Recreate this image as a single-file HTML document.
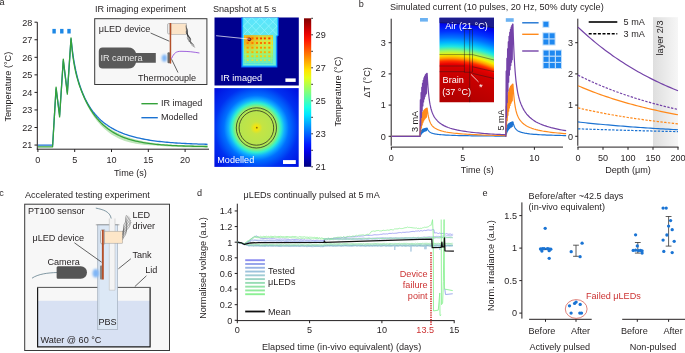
<!DOCTYPE html>
<html><head><meta charset="utf-8"><style>
html,body{margin:0;padding:0;background:#fff;overflow:hidden}
svg{display:block;will-change:transform}
</style></head><body>
<svg width="685" height="353" viewBox="0 0 685 353" font-family="Liberation Sans, sans-serif" font-size="9.1" fill="#231f20">
<defs><filter id="blur1" x="-50%" y="-50%" width="200%" height="200%"><feGaussianBlur stdDeviation="1.0"/></filter>
<filter id="blur05" x="-20%" y="-20%" width="140%" height="140%"><feGaussianBlur stdDeviation="0.55"/></filter>
<linearGradient id="irg" x1="0" y1="0" x2="0" y2="1"><stop offset="0" stop-color="#ffc000"/><stop offset="0.2" stop-color="#f4e020"/><stop offset="0.45" stop-color="#d0f038"/><stop offset="0.7" stop-color="#98f070"/><stop offset="0.9" stop-color="#60f0b8"/><stop offset="1" stop-color="#48e0e8"/></linearGradient>
<radialGradient id="irh" cx="248" cy="40" r="14" gradientUnits="userSpaceOnUse"><stop offset="0" stop-color="#ff8000" stop-opacity="0.7"/><stop offset="1" stop-color="#ffa000" stop-opacity="0"/></radialGradient>
<linearGradient id="irtop" x1="0" y1="0" x2="0" y2="1"><stop offset="0" stop-color="#58e4ff"/><stop offset="1" stop-color="#70f0d0"/></linearGradient>
<radialGradient id="mg" cx="256.4" cy="127.8" r="56" gradientUnits="userSpaceOnUse"><stop offset="0" stop-color="#f8e400"/><stop offset="0.05" stop-color="#ece41a"/><stop offset="0.11" stop-color="#c4e444"/><stop offset="0.33" stop-color="#b4e450"/><stop offset="0.38" stop-color="#90ee70"/><stop offset="0.44" stop-color="#30f0d0"/><stop offset="0.5" stop-color="#10b0ff"/><stop offset="0.58" stop-color="#0070ff"/><stop offset="0.75" stop-color="#0030f0"/><stop offset="1" stop-color="#0010e0"/></radialGradient>
<linearGradient id="cb" x1="0" y1="0" x2="0" y2="1"><stop offset="0.00" stop-color="#7f0000"/><stop offset="0.05" stop-color="#b20000"/><stop offset="0.10" stop-color="#e50000"/><stop offset="0.15" stop-color="#ff1900"/><stop offset="0.20" stop-color="#ff4c00"/><stop offset="0.25" stop-color="#ff7f00"/><stop offset="0.30" stop-color="#ffb200"/><stop offset="0.35" stop-color="#ffe500"/><stop offset="0.40" stop-color="#e5ff19"/><stop offset="0.45" stop-color="#b2ff4c"/><stop offset="0.50" stop-color="#7fff7f"/><stop offset="0.55" stop-color="#4cffb2"/><stop offset="0.60" stop-color="#19ffe5"/><stop offset="0.65" stop-color="#00e5ff"/><stop offset="0.70" stop-color="#00b2ff"/><stop offset="0.75" stop-color="#007fff"/><stop offset="0.80" stop-color="#004cff"/><stop offset="0.85" stop-color="#0019ff"/><stop offset="0.90" stop-color="#0000e5"/><stop offset="0.95" stop-color="#0000b2"/><stop offset="1.00" stop-color="#00007f"/></linearGradient>
<radialGradient id="hb" cx="450.0" cy="165.0" r="147.4" gradientUnits="userSpaceOnUse"><stop offset="0.4240" stop-color="#b00000"/><stop offset="0.6038" stop-color="#c80000"/><stop offset="0.6615" stop-color="#d40000"/><stop offset="0.6852" stop-color="#e80000"/><stop offset="0.7056" stop-color="#ff3000"/><stop offset="0.7259" stop-color="#ffa000"/><stop offset="0.7463" stop-color="#f8f000"/><stop offset="0.7734" stop-color="#a0f860"/><stop offset="0.8039" stop-color="#20e8e0"/><stop offset="0.8311" stop-color="#00b8ff"/><stop offset="0.8650" stop-color="#0074ff"/><stop offset="0.9057" stop-color="#0034ff"/><stop offset="0.9532" stop-color="#0008f0"/><stop offset="1.0000" stop-color="#0000c0"/></radialGradient>
<linearGradient id="gb" x1="0" y1="0" x2="1" y2="0"><stop offset="0" stop-color="#dedede"/><stop offset="1" stop-color="#f6f6f6"/></linearGradient></defs>
<text x="-0.60" y="4.60">a</text>
<line x1="37.30" y1="22.20" x2="37.30" y2="149.70" stroke="#231f20" stroke-width="1"/>
<line x1="36.80" y1="149.20" x2="209.00" y2="149.20" stroke="#231f20" stroke-width="1"/>
<line x1="34.50" y1="145.05" x2="37.30" y2="145.05" stroke="#231f20" stroke-width="1"/>
<text x="32.30" y="148.35" text-anchor="end">21</text>
<line x1="34.50" y1="127.50" x2="37.30" y2="127.50" stroke="#231f20" stroke-width="1"/>
<text x="32.30" y="130.80" text-anchor="end">22</text>
<line x1="34.50" y1="109.95" x2="37.30" y2="109.95" stroke="#231f20" stroke-width="1"/>
<text x="32.30" y="113.25" text-anchor="end">23</text>
<line x1="34.50" y1="92.40" x2="37.30" y2="92.40" stroke="#231f20" stroke-width="1"/>
<text x="32.30" y="95.70" text-anchor="end">24</text>
<line x1="34.50" y1="74.85" x2="37.30" y2="74.85" stroke="#231f20" stroke-width="1"/>
<text x="32.30" y="78.15" text-anchor="end">25</text>
<line x1="34.50" y1="57.30" x2="37.30" y2="57.30" stroke="#231f20" stroke-width="1"/>
<text x="32.30" y="60.60" text-anchor="end">26</text>
<line x1="34.50" y1="39.75" x2="37.30" y2="39.75" stroke="#231f20" stroke-width="1"/>
<text x="32.30" y="43.05" text-anchor="end">27</text>
<line x1="34.50" y1="22.20" x2="37.30" y2="22.20" stroke="#231f20" stroke-width="1"/>
<text x="32.30" y="25.50" text-anchor="end">28</text>
<line x1="37.90" y1="149.20" x2="37.90" y2="152.00" stroke="#231f20" stroke-width="1"/>
<text x="37.90" y="163.00" text-anchor="middle">0</text>
<line x1="74.70" y1="149.20" x2="74.70" y2="152.00" stroke="#231f20" stroke-width="1"/>
<text x="74.70" y="163.00" text-anchor="middle">5</text>
<line x1="111.50" y1="149.20" x2="111.50" y2="152.00" stroke="#231f20" stroke-width="1"/>
<text x="111.50" y="163.00" text-anchor="middle">10</text>
<line x1="148.30" y1="149.20" x2="148.30" y2="152.00" stroke="#231f20" stroke-width="1"/>
<text x="148.30" y="163.00" text-anchor="middle">15</text>
<line x1="185.10" y1="149.20" x2="185.10" y2="152.00" stroke="#231f20" stroke-width="1"/>
<text x="185.10" y="163.00" text-anchor="middle">20</text>
<text x="130.40" y="176.00" text-anchor="middle">Time (s)</text>
<text x="0" y="0" text-anchor="middle" transform="translate(10.70,86.70) rotate(-90)">Temperature (°C)</text>
<rect x="52.40" y="28.90" width="3.40" height="4.60" fill="#1e88e5"/>
<rect x="60.10" y="28.90" width="3.40" height="4.60" fill="#1e88e5"/>
<rect x="67.30" y="28.90" width="3.40" height="4.60" fill="#1e88e5"/>
<polygon points="78.75,82.32 79.48,84.53 80.22,86.61 80.96,88.59 81.69,90.48 82.43,92.28 83.16,94.00 83.90,95.66 84.64,97.24 85.37,98.77 86.11,100.24 86.84,101.65 87.58,103.02 88.32,104.33 89.05,105.60 89.79,106.82 90.52,108.00 91.26,109.14 92.00,110.24 92.73,111.31 93.47,112.34 95.31,114.76 97.15,116.99 98.99,119.04 100.83,120.93 102.67,122.68 104.51,124.29 106.35,125.79 108.19,127.17 110.03,128.45 111.87,129.64 113.71,130.75 115.55,131.77 117.39,132.73 119.23,133.62 121.07,134.45 122.91,135.23 124.75,135.95 126.59,136.63 128.43,137.27 130.27,137.87 132.11,138.43 133.95,138.96 135.79,139.45 137.63,139.92 139.47,140.37 141.31,140.78 143.15,141.18 144.99,141.55 146.83,141.91 148.67,142.24 150.51,142.56 152.35,142.86 154.19,143.14 156.03,143.40 157.87,143.58 159.71,143.75 161.55,143.90 163.39,144.05 165.23,144.18 167.07,144.31 168.91,144.42 170.75,144.53 172.59,144.63 174.43,144.72 176.27,144.81 178.11,144.89 179.95,144.96 181.79,145.03 183.63,145.09 185.47,145.15 187.31,145.21 189.15,145.26 190.99,145.30 192.83,145.35 194.67,145.39 196.51,145.42 198.35,145.46 200.19,145.49 202.03,145.52 203.87,145.55 205.71,145.58 207.55,145.60 207.55,147.70 205.71,147.68 203.87,147.65 202.03,147.62 200.19,147.59 198.35,147.56 196.51,147.52 194.67,147.49 192.83,147.45 190.99,147.40 189.15,147.36 187.31,147.31 185.47,147.25 183.63,147.19 181.79,147.13 179.95,147.06 178.11,146.99 176.27,146.91 174.43,146.82 172.59,146.73 170.75,146.63 168.91,146.52 167.07,146.41 165.23,146.28 163.39,146.15 161.55,146.00 159.71,145.85 157.87,145.68 156.03,145.50 154.19,145.42 152.35,145.36 150.51,145.28 148.67,145.18 146.83,145.06 144.99,144.91 143.15,144.74 141.31,144.54 139.47,144.30 137.63,144.03 135.79,143.72 133.95,143.37 132.11,142.98 130.27,142.54 128.43,142.05 126.59,141.51 124.75,140.91 122.91,140.24 121.07,139.51 119.23,138.71 117.39,137.83 115.55,136.87 113.71,135.82 111.87,134.68 110.03,133.43 108.19,132.08 106.35,130.61 104.51,129.02 102.67,127.28 100.83,125.41 98.99,123.37 97.15,121.16 95.31,118.76 93.47,116.16 92.73,115.06 92.00,113.92 91.26,112.74 90.52,111.52 89.79,110.26 89.05,108.96 88.32,107.61 87.58,106.21 86.84,104.77 86.11,103.27 85.37,101.71 84.64,100.10 83.90,98.42 83.16,96.68 82.43,94.87 81.69,92.98 80.96,91.01 80.22,88.94 79.48,86.76 78.75,84.46" fill="#bfe6bb"/>
<polyline points="37.90,145.05 52.62,145.05 56.08,88.89 59.61,115.22 63.29,60.81 67.34,92.40 71.02,38.87 71.39,41.79 72.12,48.44 72.86,54.12 73.60,59.04 74.33,63.37 75.07,67.24 75.80,70.73 76.54,73.91 77.28,76.84 78.01,79.55 78.75,82.08 79.48,84.44 80.22,86.66 80.96,88.76 81.69,90.73 82.43,92.60 83.16,94.38 83.90,96.07 84.64,97.67 85.37,99.20 86.11,100.66 86.84,102.05 87.58,103.39 88.32,104.66 89.05,105.88 89.79,107.05 90.52,108.18 91.26,109.25 92.00,110.29 92.73,111.29 93.47,112.24 95.31,114.49 97.15,116.54 98.99,118.41 100.83,120.14 102.67,121.73 104.51,123.20 106.35,124.56 108.19,125.83 110.03,127.00 111.87,128.10 113.71,129.12 115.55,130.08 117.39,130.97 119.23,131.81 121.07,132.59 122.91,133.33 124.75,134.02 126.59,134.66 128.43,135.27 130.27,135.84 132.11,136.38 133.95,136.89 135.79,137.36 137.63,137.81 139.47,138.23 141.31,138.63 143.15,139.00 144.99,139.35 146.83,139.68 148.67,139.99 150.51,140.28 152.35,140.56 154.19,140.82 156.03,141.06 157.87,141.30 159.71,141.51 161.55,141.72 163.39,141.91 165.23,142.09 167.07,142.26 168.91,142.42 170.75,142.58 172.59,142.72 174.43,142.85 176.27,142.98 178.11,143.10 179.95,143.21 181.79,143.32 183.63,143.42 185.47,143.51 187.31,143.60 189.15,143.69 190.99,143.76 192.83,143.84 194.67,143.91 196.51,143.97 198.35,144.04 200.19,144.10 202.03,144.15 203.87,144.20 205.71,144.25 207.55,144.30" fill="none" stroke="#1b72d2" stroke-width="1.3" stroke-linejoin="round"/>
<polyline points="37.90,146.81 52.62,146.81 56.08,87.13 59.61,116.97 63.29,59.06 67.34,94.16 71.02,37.99 71.39,42.37 72.12,49.82 72.86,55.91 73.60,61.00 74.33,65.35 75.07,69.14 75.80,72.50 76.54,75.53 77.28,78.30 78.01,80.85 78.75,83.23 79.48,85.47 80.22,87.59 80.96,89.60 81.69,91.51 82.43,93.34 83.16,95.10 83.90,96.78 84.64,98.40 85.37,99.95 86.11,101.45 86.84,102.89 87.58,104.28 88.32,105.62 89.05,106.92 89.79,108.17 90.52,109.38 91.26,110.54 92.00,111.67 92.73,112.76 93.47,113.81 95.31,116.29 97.15,118.58 98.99,120.68 100.83,122.62 102.67,124.41 104.51,126.07 106.35,127.60 108.19,129.01 110.03,130.31 111.87,131.52 113.71,132.64 115.55,133.67 117.39,134.63 119.23,135.52 121.07,136.34 122.91,137.10 124.75,137.80 126.59,138.46 128.43,139.06 130.27,139.63 132.11,140.15 133.95,140.63 135.79,141.08 137.63,141.49 139.47,141.88 141.31,142.23 143.15,142.57 144.99,142.87 146.83,143.16 148.67,143.42 150.51,143.67 152.35,143.89 154.19,144.10 156.03,144.30 157.87,144.48 159.71,144.65 161.55,144.80 163.39,144.95 165.23,145.08 167.07,145.21 168.91,145.32 170.75,145.43 172.59,145.53 174.43,145.62 176.27,145.71 178.11,145.79 179.95,145.86 181.79,145.93 183.63,145.99 185.47,146.05 187.31,146.11 189.15,146.16 190.99,146.20 192.83,146.25 194.67,146.29 196.51,146.32 198.35,146.36 200.19,146.39 202.03,146.42 203.87,146.45 205.71,146.48 207.55,146.50" fill="none" stroke="#34a23a" stroke-width="1.3" stroke-linejoin="round"/>
<line x1="141.40" y1="103.70" x2="157.80" y2="103.70" stroke="#34a23a" stroke-width="1.4"/>
<line x1="141.40" y1="117.70" x2="157.80" y2="117.70" stroke="#1b72d2" stroke-width="1.4"/>
<text x="160.90" y="106.40">IR imaged</text>
<text x="160.90" y="120.20">Modelled</text>
<text x="95.00" y="12.30">IR imaging experiment</text>
<rect x="94.7" y="18.7" width="112.2" height="65.8" fill="#f7f7f7" stroke="#3a3a3a" stroke-width="1"/>
<text x="98.70" y="32.20">μLED device</text>
<path d="M102.6,47.4 H128 Q134.5,47.4 136,53.1 H155.8 V62.7 H136 Q134.5,68.6 128,68.6 H102.6 Q98.8,68.6 98.8,64.8 V51.2 Q98.8,47.4 102.6,47.4 Z" fill="#595959"/>
<text x="100.50" y="61.30" fill="#e8e8e8">IR camera</text>
<ellipse cx="164.4" cy="58.1" rx="2.7" ry="3.6" fill="#80b6f6" filter="url(#blur1)"/>
<rect x="167.5" y="52.3" width="2.6" height="11" rx="1" fill="#6a6a6a"/>
<path d="M170,23.5 h-1.5 q-1,0 -1,1.5 v7.4 q0,1.5 1,1.5 h1.5 z" fill="#e9e9e9" stroke="#888" stroke-width="0.5"/>
<rect x="171" y="23.6" width="15.2" height="10.8" fill="#fbe4c8" stroke="#9a9a9a" stroke-width="0.5"/>
<rect x="169.7" y="23" width="1.5" height="40.6" fill="#b4502a"/>
<polyline points="186.20,24.80 186.22,25.17 186.20,25.54 186.17,25.92 186.14,26.29 186.15,26.66 186.22,27.03 186.34,27.39 186.52,27.74 186.73,28.09 186.95,28.44 187.13,28.79 187.24,29.15 187.27,29.52 187.20,29.90 187.05,30.29 186.84,30.68 186.62,31.08 186.43,31.47 186.32,31.85 186.30,32.23 186.40,32.59 186.59,32.94 186.86,33.28 187.16,33.62 187.45,33.96 187.68,34.31 187.83,34.66 187.88,35.03 187.85,35.40 187.75,35.79 187.61,36.17 187.48,36.56 187.38,36.94 187.34,37.32 187.35,37.69 187.42,38.05 187.53,38.41 187.64,38.77 187.74,39.13 187.80,39.50" fill="none" stroke="#1e1e1e" stroke-width="0.4"/><polyline points="186.20,26.40 186.22,26.80 186.24,27.20 186.28,27.60 186.37,27.99 186.50,28.36 186.69,28.73 186.90,29.10 187.12,29.46 187.30,29.83 187.43,30.21 187.48,30.60 187.45,31.01 187.34,31.44 187.18,31.87 187.02,32.31 186.89,32.74 186.83,33.15 186.88,33.55 187.03,33.93 187.27,34.28 187.59,34.63 187.93,34.97 188.25,35.31 188.51,35.66 188.69,36.03 188.76,36.42 188.74,36.83 188.65,37.25 188.52,37.68 188.39,38.11 188.31,38.53 188.28,38.94 188.33,39.34 188.44,39.72 188.60,40.09 188.77,40.47 188.93,40.84 189.06,41.22 189.15,41.60 189.20,42.00" fill="none" stroke="#1e1e1e" stroke-width="0.4"/><polyline points="186.20,28.00 186.27,28.41 186.36,28.82 186.50,29.21 186.69,29.59 186.90,29.96 187.12,30.33 187.32,30.70 187.47,31.09 187.55,31.50 187.55,31.93 187.49,32.38 187.40,32.83 187.29,33.29 187.23,33.74 187.23,34.17 187.33,34.57 187.54,34.95 187.83,35.30 188.18,35.63 188.55,35.96 188.90,36.29 189.19,36.64 189.38,37.02 189.47,37.43 189.46,37.86 189.38,38.31 189.26,38.77 189.16,39.23 189.09,39.68 189.09,40.11 189.18,40.52 189.33,40.91 189.54,41.28 189.78,41.64 190.01,42.01 190.21,42.39 190.36,42.77 190.47,43.18 190.54,43.59 190.60,44.00" fill="none" stroke="#1e1e1e" stroke-width="0.4"/><polyline points="186.20,29.60 186.34,30.00 186.52,30.39 186.74,30.76 186.96,31.13 187.18,31.51 187.35,31.90 187.47,32.31 187.53,32.74 187.53,33.19 187.49,33.66 187.46,34.12 187.46,34.57 187.52,35.00 187.68,35.40 187.92,35.76 188.25,36.10 188.63,36.41 189.03,36.72 189.40,37.04 189.69,37.38 189.90,37.76 190.00,38.18 190.01,38.63 189.95,39.10 189.85,39.59 189.77,40.07 189.74,40.54 189.78,40.97 189.91,41.38 190.11,41.76 190.38,42.11 190.67,42.46 190.97,42.81 191.23,43.16 191.44,43.54 191.60,43.93 191.72,44.34 191.81,44.76 191.89,45.19 192.00,45.60" fill="none" stroke="#1e1e1e" stroke-width="0.4"/><polyline points="186.20,31.20 186.42,31.57 186.65,31.94 186.89,32.30 187.10,32.68 187.26,33.08 187.37,33.50 187.44,33.94 187.47,34.40 187.51,34.85 187.57,35.30 187.70,35.71 187.90,36.09 188.18,36.43 188.54,36.74 188.94,37.03 189.35,37.32 189.72,37.62 190.03,37.95 190.25,38.32 190.37,38.74 190.40,39.20 190.36,39.69 190.30,40.19 190.25,40.68 190.26,41.15 190.34,41.59 190.52,41.98 190.78,42.33 191.10,42.66 191.46,42.97 191.81,43.28 192.13,43.60 192.39,43.95 192.59,44.33 192.74,44.74 192.86,45.16 192.96,45.58 193.07,46.01 193.22,46.41 193.40,46.80" fill="none" stroke="#1e1e1e" stroke-width="0.4"/><polyline points="186.20,32.80 186.46,33.14 186.71,33.49 186.93,33.86 187.10,34.26 187.23,34.67 187.34,35.11 187.44,35.54 187.57,35.96 187.75,36.35 187.99,36.71 188.30,37.02 188.68,37.30 189.09,37.56 189.50,37.81 189.88,38.08 190.20,38.39 190.43,38.75 190.57,39.17 190.63,39.63 190.63,40.13 190.61,40.63 190.61,41.13 190.66,41.59 190.80,42.01 191.02,42.37 191.34,42.68 191.71,42.96 192.12,43.22 192.52,43.48 192.88,43.77 193.19,44.08 193.43,44.44 193.61,44.83 193.74,45.25 193.86,45.67 193.98,46.10 194.13,46.50 194.32,46.89 194.55,47.25 194.80,47.60" fill="none" stroke="#1e1e1e" stroke-width="0.4"/>
<path d="M171.4,58.8 C174,53 176,51.3 181,51.3 C188,51.3 194,52 199.4,53" fill="none" stroke="#8a3fd6" stroke-width="0.8"/>
<line x1="150.60" y1="33.00" x2="169.30" y2="41.20" stroke="#222" stroke-width="0.7"/>
<line x1="171.60" y1="59.30" x2="178.00" y2="72.50" stroke="#222" stroke-width="0.7"/>
<text x="138.00" y="81.30">Thermocouple</text>
<rect x="214.50" y="17.50" width="84.30" height="68.00" fill="#00008f"/>
<clipPath id="irclip"><rect x="214.5" y="17.5" width="84.3" height="68.0"/></clipPath>
<g clip-path="url(#irclip)"><g filter="url(#blur05)">
<path d="M241.2,16 H278.8 V35.5 L277.4,36.8 V67.4 H241.2 Z" fill="#0a60ff"/>
<path d="M242.2,16 H278 V35.3 L276.6,36.5 V66.5 H242.2 Z" fill="#12b4ff"/>
<path d="M243.2,16 H277.2 V35 L275.8,36 V65.4 H243.2 Z" fill="url(#irtop)"/>
<rect x="244.00" y="35.30" width="29.00" height="28.60" fill="url(#irg)"/>
<path d="M243.4,17.5 l8.4,8.6 M251.8,17.5 l-8.4,8.6 M243.4,26.1 l8.4,8.6 M251.8,26.1 l-8.4,8.6" stroke="#8ef4ff" stroke-width="0.8" fill="none"/>
<path d="M251.8,17.5 l8.4,8.6 M260.2,17.5 l-8.4,8.6 M251.8,26.1 l8.4,8.6 M260.2,26.1 l-8.4,8.6" stroke="#8ef4ff" stroke-width="0.8" fill="none"/>
<path d="M260.2,17.5 l8.4,8.6 M268.6,17.5 l-8.4,8.6 M260.2,26.1 l8.4,8.6 M268.6,26.1 l-8.4,8.6" stroke="#8ef4ff" stroke-width="0.8" fill="none"/>
<path d="M268.6,17.5 l8.4,8.6 M277.0,17.5 l-8.4,8.6 M268.6,26.1 l8.4,8.6 M277.0,26.1 l-8.4,8.6" stroke="#8ef4ff" stroke-width="0.8" fill="none"/>
<rect x="246.70" y="37.50" width="2.00" height="1.80" fill="#f03800"/>
<rect x="251.40" y="37.50" width="2.00" height="1.80" fill="#f03800"/>
<rect x="256.00" y="37.50" width="2.00" height="1.80" fill="#f03800"/>
<rect x="260.00" y="37.50" width="2.00" height="1.80" fill="#f03800"/>
<rect x="263.80" y="37.50" width="2.00" height="1.80" fill="#f03800"/>
<rect x="268.30" y="37.50" width="2.00" height="1.80" fill="#f03800"/>
<rect x="246.70" y="42.10" width="2.00" height="1.80" fill="#ff6000"/>
<rect x="251.40" y="42.10" width="2.00" height="1.80" fill="#ff6000"/>
<rect x="256.00" y="42.10" width="2.00" height="1.80" fill="#ff6000"/>
<rect x="260.00" y="42.10" width="2.00" height="1.80" fill="#ff6000"/>
<rect x="263.80" y="42.10" width="2.00" height="1.80" fill="#ff6000"/>
<rect x="268.30" y="42.10" width="2.00" height="1.80" fill="#ff6000"/>
<rect x="246.70" y="46.80" width="2.00" height="1.80" fill="#ff8c00"/>
<rect x="251.40" y="46.80" width="2.00" height="1.80" fill="#ff8c00"/>
<rect x="256.00" y="46.80" width="2.00" height="1.80" fill="#ff8c00"/>
<rect x="260.00" y="46.80" width="2.00" height="1.80" fill="#ff8c00"/>
<rect x="263.80" y="46.80" width="2.00" height="1.80" fill="#ff8c00"/>
<rect x="268.30" y="46.80" width="2.00" height="1.80" fill="#ff8c00"/>
<rect x="246.70" y="51.30" width="2.00" height="1.80" fill="#ffac00"/>
<rect x="251.40" y="51.30" width="2.00" height="1.80" fill="#ffac00"/>
<rect x="256.00" y="51.30" width="2.00" height="1.80" fill="#ffac00"/>
<rect x="260.00" y="51.30" width="2.00" height="1.80" fill="#ffac00"/>
<rect x="263.80" y="51.30" width="2.00" height="1.80" fill="#ffac00"/>
<rect x="268.30" y="51.30" width="2.00" height="1.80" fill="#ffac00"/>
<rect x="246.70" y="55.40" width="2.00" height="1.80" fill="#ffd000"/>
<rect x="251.40" y="55.40" width="2.00" height="1.80" fill="#ffd000"/>
<rect x="256.00" y="55.40" width="2.00" height="1.80" fill="#ffd000"/>
<rect x="260.00" y="55.40" width="2.00" height="1.80" fill="#ffd000"/>
<rect x="263.80" y="55.40" width="2.00" height="1.80" fill="#ffd000"/>
<rect x="268.30" y="55.40" width="2.00" height="1.80" fill="#ffd000"/>
<rect x="246.70" y="59.30" width="2.00" height="1.80" fill="#e0e040"/>
<rect x="251.40" y="59.30" width="2.00" height="1.80" fill="#e0e040"/>
<rect x="256.00" y="59.30" width="2.00" height="1.80" fill="#e0e040"/>
<rect x="260.00" y="59.30" width="2.00" height="1.80" fill="#e0e040"/>
<rect x="263.80" y="59.30" width="2.00" height="1.80" fill="#e0e040"/>
<rect x="268.30" y="59.30" width="2.00" height="1.80" fill="#e0e040"/>
<path d="M245.3,36 V63.5 M250.0,36 V63.5 M254.7,36 V63.5 M259.0,36 V63.5 M263.0,36 V63.5 M267.0,36 V63.5 M271.6,36 V63.5 M244,36.2 H273 M244,40.7 H273 M244,45.3 H273 M244,50.0 H273 M244,54.3 H273 M244,58.3 H273 M244,62.2 H273" stroke="#a0f090" stroke-width="0.7" stroke-opacity="0.75" fill="none"/>
<rect x="244.00" y="35.30" width="29.00" height="28.60" fill="url(#irh)"/>
<circle cx="249.3" cy="39.3" r="1.9" fill="#801000"/>
</g></g>
<line x1="216.10" y1="35.70" x2="250.30" y2="39.20" stroke="#ffffff" stroke-width="0.7"/>
<text x="220.70" y="80.80" fill="#ffffff">IR imaged</text>
<rect x="285.40" y="78.40" width="10.30" height="3.50" fill="#ffffff"/>
<rect x="214.40" y="88.10" width="84.30" height="78.80" fill="url(#mg)"/>
<circle cx="256.4" cy="127.9" r="20.1" fill="none" stroke="#1a1a1a" stroke-width="0.7"/>
<circle cx="256.4" cy="127.9" r="17.3" fill="none" stroke="#1a1a1a" stroke-width="0.7"/>
<circle cx="256.8" cy="127.7" r="0.9" fill="#8a6a10" filter="url(#blur05)"/>
<text x="217.30" y="163.30" fill="#ffffff">Modelled</text>
<rect x="283.00" y="160.10" width="12.80" height="3.90" fill="#ffffff"/>
<rect x="304.00" y="18.30" width="7.20" height="148.50" fill="url(#cb)"/>
<line x1="311.20" y1="166.80" x2="313.00" y2="166.80" stroke="#231f20" stroke-width="0.9"/>
<text x="315.60" y="170.10">21</text>
<line x1="311.20" y1="150.30" x2="313.00" y2="150.30" stroke="#231f20" stroke-width="0.9"/>
<line x1="311.20" y1="133.80" x2="313.00" y2="133.80" stroke="#231f20" stroke-width="0.9"/>
<text x="315.60" y="137.10">23</text>
<line x1="311.20" y1="117.30" x2="313.00" y2="117.30" stroke="#231f20" stroke-width="0.9"/>
<line x1="311.20" y1="100.80" x2="313.00" y2="100.80" stroke="#231f20" stroke-width="0.9"/>
<text x="315.60" y="104.10">25</text>
<line x1="311.20" y1="84.30" x2="313.00" y2="84.30" stroke="#231f20" stroke-width="0.9"/>
<line x1="311.20" y1="67.80" x2="313.00" y2="67.80" stroke="#231f20" stroke-width="0.9"/>
<text x="315.60" y="71.10">27</text>
<line x1="311.20" y1="51.30" x2="313.00" y2="51.30" stroke="#231f20" stroke-width="0.9"/>
<line x1="311.20" y1="34.80" x2="313.00" y2="34.80" stroke="#231f20" stroke-width="0.9"/>
<text x="315.60" y="38.10">29</text>
<line x1="311.20" y1="18.30" x2="313.00" y2="18.30" stroke="#231f20" stroke-width="0.9"/>
<text x="0" y="0" text-anchor="middle" transform="translate(341.00,91.60) rotate(-90)">Temperature (°C)</text>
<text x="213.00" y="11.80">Snapshot at 5 s</text>
<text x="358.70" y="7.30">b</text>
<text x="389.90" y="10.20">Simulated current (10 pulses, 20 Hz, 50% duty cycle)</text>
<line x1="391.20" y1="18.70" x2="391.20" y2="145.80" stroke="#231f20" stroke-width="1"/>
<line x1="390.80" y1="147.10" x2="563.00" y2="147.10" stroke="#231f20" stroke-width="1"/>
<line x1="388.60" y1="136.30" x2="391.20" y2="136.30" stroke="#231f20" stroke-width="1"/>
<text x="385.80" y="139.60" text-anchor="end">0</text>
<line x1="388.60" y1="105.10" x2="391.20" y2="105.10" stroke="#231f20" stroke-width="1"/>
<text x="385.80" y="108.40" text-anchor="end">1</text>
<line x1="388.60" y1="73.90" x2="391.20" y2="73.90" stroke="#231f20" stroke-width="1"/>
<text x="385.80" y="77.20" text-anchor="end">2</text>
<line x1="388.60" y1="42.70" x2="391.20" y2="42.70" stroke="#231f20" stroke-width="1"/>
<text x="385.80" y="46.00" text-anchor="end">3</text>
<line x1="391.40" y1="147.10" x2="391.40" y2="149.80" stroke="#231f20" stroke-width="1"/>
<text x="391.40" y="160.60" text-anchor="middle">0</text>
<line x1="462.90" y1="147.10" x2="462.90" y2="149.80" stroke="#231f20" stroke-width="1"/>
<text x="462.90" y="160.60" text-anchor="middle">5</text>
<line x1="534.40" y1="147.10" x2="534.40" y2="149.80" stroke="#231f20" stroke-width="1"/>
<text x="534.40" y="160.60" text-anchor="middle">10</text>
<text x="477.30" y="173.40" text-anchor="middle">Time (s)</text>
<text x="0" y="0" text-anchor="middle" transform="translate(369.70,82.40) rotate(-90)">ΔT (°C)</text>
<rect x="420.00" y="18.00" width="7.90" height="3.60" fill="#6cb2f2"/>
<rect x="505.80" y="18.20" width="7.90" height="3.60" fill="#6cb2f2"/>
<polyline points="391.40,136.30 420.00,136.30 420.00,136.30 420.36,131.60 420.71,134.93 421.07,130.68 421.43,133.87 421.79,129.99 422.14,133.04 422.50,129.47 422.86,132.39 423.22,129.08 423.57,131.89 423.93,128.79 424.29,131.49 424.65,128.57 425.00,131.19 425.36,128.41 425.72,130.95 426.08,128.28 426.44,130.77 426.79,128.19 427.15,128.19 427.58,129.17 428.01,129.97 428.44,130.62 428.87,131.15 429.29,131.59 429.72,131.96 430.15,132.27 430.58,132.53 431.01,132.75 431.44,132.95 431.87,133.12 432.30,133.27 432.73,133.40 433.16,133.53 433.58,133.64 434.01,133.74 434.44,133.83 434.87,133.91 435.30,133.99 435.73,134.07 436.16,134.13 436.59,134.20 437.02,134.26 437.45,134.32 437.88,134.37 438.30,134.43 438.73,134.48 439.16,134.52 439.59,134.57 440.02,134.61 440.45,134.65 440.88,134.69 441.31,134.73 441.74,134.76 443.88,134.92 446.03,135.06 448.17,135.17 450.32,135.26 452.46,135.34 454.61,135.41 456.75,135.48 458.90,135.53 461.04,135.59 463.19,135.63 465.33,135.67 467.48,135.71 469.62,135.75 471.77,135.78 473.91,135.81 476.06,135.84 478.20,135.87 480.35,135.90 482.49,135.92 484.64,135.94 486.78,135.96 488.93,135.98 491.07,136.00 493.22,136.02 495.36,136.04 497.51,136.05 499.65,136.07 501.80,136.08 503.94,136.09 505.80,136.10 505.80,136.30 506.16,127.98 506.51,133.88 506.87,126.35 507.23,131.99 507.59,125.13 507.94,130.53 508.30,124.22 508.66,129.38 509.02,123.53 509.38,128.49 509.73,123.01 510.09,127.80 510.45,122.62 510.80,127.26 511.16,122.33 511.52,126.84 511.88,122.11 512.24,126.51 512.59,121.95 512.95,121.95 513.38,123.69 513.81,125.10 514.24,126.25 514.67,127.19 515.10,127.97 515.52,128.62 515.95,129.16 516.38,129.63 516.81,130.03 517.24,130.37 517.67,130.67 518.10,130.94 518.53,131.18 518.96,131.39 519.38,131.59 519.81,131.76 520.24,131.93 520.67,132.08 521.10,132.22 521.53,132.35 521.96,132.47 522.39,132.58 522.82,132.69 523.25,132.79 523.67,132.89 524.10,132.98 524.53,133.07 524.96,133.16 525.39,133.23 525.82,133.31 526.25,133.38 526.68,133.45 527.11,133.52 527.54,133.58 529.68,133.87 531.83,134.10 533.97,134.30 536.12,134.46 538.26,134.61 540.41,134.73 542.55,134.85 544.70,134.94 546.84,135.04 548.99,135.12 551.13,135.19 553.28,135.26 555.42,135.33 557.57,135.38 559.71,135.44 561.86,135.49 564.00,135.54 566.15,135.58" fill="none" stroke="#1b72d2" stroke-width="1.2" stroke-linejoin="round"/>
<polyline points="391.40,136.30 420.00,136.30 420.00,136.30 420.36,120.01 420.71,131.56 421.07,116.84 421.43,127.87 421.79,114.46 422.14,125.00 422.50,112.66 422.86,122.76 423.22,111.32 423.57,121.02 423.93,110.30 424.29,119.66 424.65,109.54 425.00,118.61 425.36,108.97 425.72,117.78 426.08,108.54 426.44,117.14 426.79,108.22 427.15,108.22 427.58,111.63 428.01,114.39 428.44,116.63 428.87,118.47 429.29,120.00 429.72,121.27 430.15,122.34 430.58,123.24 431.01,124.02 431.44,124.70 431.87,125.29 432.30,125.81 432.73,126.28 433.16,126.70 433.58,127.08 434.01,127.42 434.44,127.74 434.87,128.04 435.30,128.31 435.73,128.56 436.16,128.80 436.59,129.03 437.02,129.24 437.45,129.44 437.88,129.63 438.30,129.81 438.73,129.98 439.16,130.15 439.59,130.30 440.02,130.45 440.45,130.59 440.88,130.73 441.31,130.86 441.74,130.98 443.88,131.54 446.03,132.00 448.17,132.38 450.32,132.71 452.46,132.99 454.61,133.23 456.75,133.45 458.90,133.65 461.04,133.83 463.19,133.99 465.33,134.13 467.48,134.27 469.62,134.39 471.77,134.51 473.91,134.62 476.06,134.72 478.20,134.81 480.35,134.90 482.49,134.98 484.64,135.06 486.78,135.13 488.93,135.20 491.07,135.27 493.22,135.33 495.36,135.38 497.51,135.44 499.65,135.49 501.80,135.53 503.94,135.58 505.80,135.62 505.80,136.30 506.16,106.08 506.51,127.51 506.87,100.19 507.23,120.67 507.59,95.77 507.94,115.33 508.30,92.44 508.66,111.18 509.02,89.94 509.38,107.95 509.73,88.06 510.09,105.43 510.45,86.65 510.80,103.47 511.16,85.59 511.52,101.94 511.88,84.79 512.24,100.75 512.59,84.20 512.95,84.20 513.38,90.52 513.81,95.64 514.24,99.81 514.67,103.22 515.10,106.05 515.52,108.41 515.95,110.39 516.38,112.07 516.81,113.52 517.24,114.77 517.67,115.87 518.10,116.84 518.53,117.70 518.96,118.48 519.38,119.18 519.81,119.83 520.24,120.42 520.67,120.96 521.10,121.47 521.53,121.95 521.96,122.39 522.39,122.81 522.82,123.20 523.25,123.57 523.67,123.93 524.10,124.26 524.53,124.58 524.96,124.88 525.39,125.17 525.82,125.45 526.25,125.71 526.68,125.96 527.11,126.21 527.54,126.44 529.68,127.46 531.83,128.31 533.97,129.02 536.12,129.63 538.26,130.15 540.41,130.61 542.55,131.02 544.70,131.38 546.84,131.71 548.99,132.01 551.13,132.28 553.28,132.53 555.42,132.76 557.57,132.98 559.71,133.18 561.86,133.36 564.00,133.54 566.15,133.70" fill="none" stroke="#ff8a1c" stroke-width="1.2" stroke-linejoin="round"/>
<polyline points="391.40,136.30 420.00,136.30 420.00,136.30 420.36,99.75 420.71,125.67 421.07,92.62 421.43,117.39 421.79,87.27 422.14,110.94 422.50,83.25 422.86,105.92 423.22,80.23 423.57,102.01 423.93,77.95 424.29,98.96 424.65,76.25 425.00,96.59 425.36,74.96 425.72,94.74 426.08,74.00 426.44,93.30 426.79,73.28 427.15,73.28 427.58,80.93 428.01,87.12 428.44,92.16 428.87,96.29 429.29,99.71 429.72,102.56 430.15,104.96 430.58,107.00 431.01,108.74 431.44,110.26 431.87,111.59 432.30,112.76 432.73,113.80 433.16,114.74 433.58,115.60 434.01,116.37 434.44,117.09 434.87,117.75 435.30,118.36 435.73,118.94 436.16,119.48 436.59,119.98 437.02,120.46 437.45,120.91 437.88,121.33 438.30,121.74 438.73,122.12 439.16,122.49 439.59,122.84 440.02,123.17 440.45,123.49 440.88,123.80 441.31,124.09 441.74,124.37 443.88,125.61 446.03,126.64 448.17,127.50 450.32,128.23 452.46,128.87 454.61,129.42 456.75,129.91 458.90,130.35 461.04,130.75 463.19,131.11 465.33,131.43 467.48,131.74 469.62,132.02 471.77,132.28 473.91,132.52 476.06,132.75 478.20,132.96 480.35,133.16 482.49,133.34 484.64,133.52 486.78,133.68 488.93,133.83 491.07,133.98 493.22,134.11 495.36,134.24 497.51,134.36 499.65,134.47 501.80,134.58 503.94,134.68 505.80,134.76 505.80,136.30 506.16,71.15 506.51,117.35 506.87,58.46 507.23,102.60 507.59,48.92 507.94,91.11 508.30,41.75 508.66,82.16 509.02,36.37 509.38,75.19 509.73,32.32 510.09,69.76 510.45,29.28 510.80,65.53 511.16,26.99 511.52,62.24 511.88,25.27 512.24,59.67 512.59,23.98 512.95,23.98 513.38,37.61 513.81,48.64 514.24,57.63 514.67,65.00 515.10,71.09 515.52,76.17 515.95,80.44 516.38,84.08 516.81,87.19 517.24,89.89 517.67,92.26 518.10,94.35 518.53,96.21 518.96,97.88 519.38,99.40 519.81,100.79 520.24,102.06 520.67,103.24 521.10,104.34 521.53,105.36 521.96,106.31 522.39,107.21 522.82,108.06 523.25,108.87 523.67,109.63 524.10,110.35 524.53,111.03 524.96,111.69 525.39,112.31 525.82,112.91 526.25,113.47 526.68,114.02 527.11,114.54 527.54,115.04 529.68,117.25 531.83,119.08 533.97,120.62 536.12,121.92 538.26,123.05 540.41,124.04 542.55,124.91 544.70,125.69 546.84,126.40 548.99,127.04 551.13,127.63 553.28,128.17 555.42,128.67 557.57,129.13 559.71,129.57 561.86,129.97 564.00,130.35 566.15,130.70" fill="none" stroke="#7443a8" stroke-width="1.2" stroke-linejoin="round"/>
<text x="0" y="0" text-anchor="middle" transform="translate(418.20,121.50) rotate(-90)">3 mA</text>
<text x="0" y="0" text-anchor="middle" transform="translate(503.80,120.00) rotate(-90)">5 mA</text>
<clipPath id="hbclip"><rect x="439.3" y="17.6" width="54.7" height="84.9"/></clipPath>
<g clip-path="url(#hbclip)">
<rect x="439.30" y="17.60" width="54.70" height="84.90" fill="url(#hb)"/>
<path d="M439.3,17.6 H494 V27.7 Q466,23.2 439.3,22.6 Z" fill="#1c1c8c"/>
<g fill="none" stroke="#1a1a1a" stroke-width="0.45"><path d="M439.3,22.6 Q466,23.2 494,27.7"/><rect x="464.2" y="29.4" width="8.3" height="42.7"/><line x1="469.7" y1="29.4" x2="469.7" y2="102.5"/><path d="M439.3,54.6 H472.5 L494,60"/><path d="M439.3,66.0 H464.2 M472.5,66.8 L494,71.6"/><path d="M439.3,71.7 H464.2 M472.5,73.4 L494,78.5"/></g>
</g>
<text x="445.30" y="29.30" fill="#ffffff">Air (21 °C)</text>
<text x="442.60" y="82.70" fill="#ffffff">Brain</text>
<text x="442.20" y="94.70" fill="#ffffff">(37 °C)</text>
<line x1="471.10" y1="74.50" x2="478.50" y2="81.90" stroke="#ffffff" stroke-width="0.8"/>
<text x="480.80" y="89.60" text-anchor="middle" fill="#ffffff" font-size="9.5">*</text>
<line x1="522.20" y1="22.80" x2="538.60" y2="22.80" stroke="#1b72d2" stroke-width="1.4"/>
<line x1="522.20" y1="34.30" x2="538.60" y2="34.30" stroke="#ff8a1c" stroke-width="1.4"/>
<line x1="522.20" y1="51.00" x2="538.60" y2="51.00" stroke="#7443a8" stroke-width="1.4"/>
<rect x="542.40" y="20.80" width="7.00" height="7.00" fill="#bcdcfa"/>
<rect x="543.40" y="21.80" width="5.00" height="5.00" fill="#1e88f0"/>
<rect x="542.40" y="32.30" width="13.20" height="13.20" fill="#bcdcfa"/>
<rect x="543.40" y="33.30" width="5.00" height="5.00" fill="#1e88f0"/>
<rect x="543.40" y="39.50" width="5.00" height="5.00" fill="#1e88f0"/>
<rect x="549.60" y="33.30" width="5.00" height="5.00" fill="#1e88f0"/>
<rect x="549.60" y="39.50" width="5.00" height="5.00" fill="#1e88f0"/>
<rect x="542.60" y="49.60" width="19.40" height="19.40" fill="#bcdcfa"/>
<rect x="543.60" y="50.60" width="5.00" height="5.00" fill="#1e88f0"/>
<rect x="543.60" y="56.80" width="5.00" height="5.00" fill="#1e88f0"/>
<rect x="543.60" y="63.00" width="5.00" height="5.00" fill="#1e88f0"/>
<rect x="549.80" y="50.60" width="5.00" height="5.00" fill="#1e88f0"/>
<rect x="549.80" y="56.80" width="5.00" height="5.00" fill="#1e88f0"/>
<rect x="549.80" y="63.00" width="5.00" height="5.00" fill="#1e88f0"/>
<rect x="556.00" y="50.60" width="5.00" height="5.00" fill="#1e88f0"/>
<rect x="556.00" y="56.80" width="5.00" height="5.00" fill="#1e88f0"/>
<rect x="556.00" y="63.00" width="5.00" height="5.00" fill="#1e88f0"/>
<rect x="653.00" y="17.20" width="25.00" height="129.90" fill="url(#gb)"/>
<line x1="577.80" y1="18.70" x2="577.80" y2="145.80" stroke="#231f20" stroke-width="1"/>
<line x1="577.40" y1="147.10" x2="678.50" y2="147.10" stroke="#231f20" stroke-width="1"/>
<line x1="575.20" y1="136.30" x2="577.80" y2="136.30" stroke="#231f20" stroke-width="1"/>
<text x="573.00" y="139.60" text-anchor="end">0</text>
<line x1="575.20" y1="105.10" x2="577.80" y2="105.10" stroke="#231f20" stroke-width="1"/>
<text x="573.00" y="108.40" text-anchor="end">1</text>
<line x1="575.20" y1="73.90" x2="577.80" y2="73.90" stroke="#231f20" stroke-width="1"/>
<text x="573.00" y="77.20" text-anchor="end">2</text>
<line x1="575.20" y1="42.70" x2="577.80" y2="42.70" stroke="#231f20" stroke-width="1"/>
<text x="573.00" y="46.00" text-anchor="end">3</text>
<line x1="578.00" y1="147.10" x2="578.00" y2="149.80" stroke="#231f20" stroke-width="1"/>
<text x="578.00" y="160.60" text-anchor="middle">0</text>
<line x1="603.00" y1="147.10" x2="603.00" y2="149.80" stroke="#231f20" stroke-width="1"/>
<text x="603.00" y="160.60" text-anchor="middle">50</text>
<line x1="628.00" y1="147.10" x2="628.00" y2="149.80" stroke="#231f20" stroke-width="1"/>
<text x="628.00" y="160.60" text-anchor="middle">100</text>
<line x1="653.00" y1="147.10" x2="653.00" y2="149.80" stroke="#231f20" stroke-width="1"/>
<text x="653.00" y="160.60" text-anchor="middle">150</text>
<line x1="678.00" y1="147.10" x2="678.00" y2="149.80" stroke="#231f20" stroke-width="1"/>
<text x="678.00" y="160.60" text-anchor="middle">200</text>
<text x="628.00" y="173.40" text-anchor="middle">Depth (μm)</text>
<text x="0" y="0" text-anchor="middle" transform="translate(663.30,38.00) rotate(-90)">layer 2/3</text>
<line x1="588.70" y1="22.00" x2="617.30" y2="22.00" stroke="#000" stroke-width="1.6"/>
<line x1="588.70" y1="33.70" x2="617.30" y2="33.70" stroke="#000" stroke-width="1.6" stroke-dasharray="3,1.6"/>
<text x="623.60" y="25.40">5 mA</text>
<text x="623.60" y="37.20">3 mA</text>
<polyline points="578.00,27.10 580.50,29.46 583.00,31.77 585.50,34.03 588.00,36.24 590.50,38.41 593.00,40.52 595.50,42.59 598.00,44.62 600.50,46.60 603.00,48.54 605.50,50.44 608.00,52.29 610.50,54.11 613.00,55.89 615.50,57.63 618.00,59.33 620.50,60.99 623.00,62.62 625.50,64.21 628.00,65.77 630.50,67.30 633.00,68.79 635.50,70.25 638.00,71.68 640.50,73.07 643.00,74.44 645.50,75.78 648.00,77.09 650.50,78.37 653.00,79.62 655.50,80.84 658.00,82.04 660.50,83.22 663.00,84.36 665.50,85.49 668.00,86.59 670.50,87.66 673.00,88.71 675.50,89.74 678.00,90.75" fill="none" stroke="#7443a8" stroke-width="1.2" stroke-linejoin="round"/>
<polyline points="578.00,75.15 580.50,76.39 583.00,77.62 585.50,78.81 588.00,79.98 590.50,81.13 593.00,82.26 595.50,83.36 598.00,84.44 600.50,85.49 603.00,86.53 605.50,87.54 608.00,88.54 610.50,89.51 613.00,90.47 615.50,91.40 618.00,92.31 620.50,93.21 623.00,94.09 625.50,94.95 628.00,95.79 630.50,96.62 633.00,97.43 635.50,98.22 638.00,99.00 640.50,99.76 643.00,100.50 645.50,101.23 648.00,101.95 650.50,102.65 653.00,103.33 655.50,104.00 658.00,104.66 660.50,105.31 663.00,105.94 665.50,106.56 668.00,107.16 670.50,107.76 673.00,108.34 675.50,108.91 678.00,109.47" fill="none" stroke="#7443a8" stroke-width="1.2" stroke-linejoin="round" stroke-dasharray="2.4,1.4"/>
<polyline points="578.00,85.76 580.50,86.82 583.00,87.87 585.50,88.89 588.00,89.89 590.50,90.87 593.00,91.83 595.50,92.77 598.00,93.69 600.50,94.59 603.00,95.47 605.50,96.33 608.00,97.17 610.50,98.00 613.00,98.81 615.50,99.60 618.00,100.37 620.50,101.13 623.00,101.88 625.50,102.60 628.00,103.31 630.50,104.01 633.00,104.69 635.50,105.36 638.00,106.01 640.50,106.65 643.00,107.28 645.50,107.89 648.00,108.49 650.50,109.08 653.00,109.65 655.50,110.21 658.00,110.76 660.50,111.30 663.00,111.83 665.50,112.35 668.00,112.85 670.50,113.35 673.00,113.83 675.50,114.31 678.00,114.77" fill="none" stroke="#ff8a1c" stroke-width="1.2" stroke-linejoin="round"/>
<polyline points="578.00,107.91 580.50,108.49 583.00,109.05 585.50,109.61 588.00,110.15 590.50,110.68 593.00,111.20 595.50,111.71 598.00,112.21 600.50,112.70 603.00,113.18 605.50,113.65 608.00,114.11 610.50,114.56 613.00,115.01 615.50,115.44 618.00,115.86 620.50,116.28 623.00,116.69 625.50,117.09 628.00,117.48 630.50,117.86 633.00,118.23 635.50,118.60 638.00,118.96 640.50,119.31 643.00,119.66 645.50,120.00 648.00,120.33 650.50,120.65 653.00,120.97 655.50,121.28 658.00,121.59 660.50,121.89 663.00,122.18 665.50,122.47 668.00,122.75 670.50,123.03 673.00,123.30 675.50,123.56 678.00,123.82" fill="none" stroke="#ff8a1c" stroke-width="1.2" stroke-linejoin="round" stroke-dasharray="2.4,1.4"/>
<polyline points="578.00,121.95 580.50,122.23 583.00,122.50 585.50,122.77 588.00,123.03 590.50,123.29 593.00,123.54 595.50,123.79 598.00,124.03 600.50,124.27 603.00,124.50 605.50,124.73 608.00,124.96 610.50,125.18 613.00,125.39 615.50,125.60 618.00,125.81 620.50,126.02 623.00,126.22 625.50,126.41 628.00,126.60 630.50,126.79 633.00,126.98 635.50,127.16 638.00,127.33 640.50,127.51 643.00,127.68 645.50,127.85 648.00,128.01 650.50,128.17 653.00,128.33 655.50,128.48 658.00,128.64 660.50,128.78 663.00,128.93 665.50,129.07 668.00,129.21 670.50,129.35 673.00,129.49 675.50,129.62 678.00,129.75" fill="none" stroke="#1b72d2" stroke-width="1.2" stroke-linejoin="round"/>
<polyline points="578.00,128.81 580.50,128.90 583.00,128.99 585.50,129.07 588.00,129.16 590.50,129.24 593.00,129.32 595.50,129.40 598.00,129.48 600.50,129.56 603.00,129.64 605.50,129.72 608.00,129.80 610.50,129.87 613.00,129.95 615.50,130.02 618.00,130.10 620.50,130.17 623.00,130.24 625.50,130.31 628.00,130.38 630.50,130.45 633.00,130.52 635.50,130.59 638.00,130.65 640.50,130.72 643.00,130.78 645.50,130.85 648.00,130.91 650.50,130.97 653.00,131.04 655.50,131.10 658.00,131.16 660.50,131.22 663.00,131.28 665.50,131.34 668.00,131.39 670.50,131.45 673.00,131.51 675.50,131.56 678.00,131.62" fill="none" stroke="#1b72d2" stroke-width="1.2" stroke-linejoin="round" stroke-dasharray="2.4,1.4"/>
<text x="-0.70" y="195.90">c</text>
<text x="25.00" y="197.50">Accelerated testing experiment</text>
<rect x="24.7" y="204.2" width="144.8" height="146.3" fill="#f7f7f7" stroke="#3a3a3a" stroke-width="1"/>
<rect x="37.6" y="300.8" width="112.5" height="46.0" fill="#d8e1f3"/>
<path d="M37.6,287.4 V346.8 H150.1 V287.4" fill="none" stroke="#1a1a1a" stroke-width="1.2"/>
<line x1="37.00" y1="287.40" x2="150.70" y2="287.40" stroke="#505050" stroke-width="1.0"/>
<text x="40.40" y="343.20">Water @ 60 °C</text>
<rect x="97.6" y="224.8" width="20.1" height="104.6" fill="#dce8f6" stroke="#9aa6b4" stroke-width="0.6"/>
<line x1="95.80" y1="224.80" x2="119.40" y2="224.80" stroke="#8a8a8a" stroke-width="0.7"/>
<line x1="98.90" y1="225.00" x2="98.90" y2="329.00" stroke="#b0bcc8" stroke-width="0.4"/>
<text x="98.40" y="324.60">PBS</text>
<rect x="109.3" y="218.5" width="5.7" height="71.7" fill="#f4f4f4"/>
<path d="M109.3,218.5 V290.2 H115 V218.5" fill="none" stroke="#b4b4b4" stroke-width="0.5"/>
<path d="M95.8,208.1 C103,209.5 110,211.5 111.2,218.5" fill="none" stroke="#4e6e7e" stroke-width="0.7"/>
<text x="28.00" y="214.40">PT100 sensor</text>
<rect x="100.0" y="265.6" width="2.4" height="13.9" rx="0.8" fill="#8a8a8a"/>
<path d="M104.7,229.8 h-2.5 q-1.7,0 -1.7,2 v10.2 q0,2 1.7,2 h2.5 z" fill="#f4f4f4" stroke="#777" stroke-width="0.5"/>
<rect x="104.7" y="231.2" width="18.0" height="12.0" fill="#fde6c8" stroke="#9a9a9a" stroke-width="0.5"/>
<rect x="101.90" y="229.90" width="1.90" height="49.60" fill="#b4502a"/>
<polyline points="122.70,232.00 122.81,231.58 122.93,231.16 123.08,230.75 123.22,230.33 123.36,229.92 123.48,229.50 123.57,229.07 123.63,228.64 123.65,228.20 123.65,227.75 123.63,227.30 123.61,226.85 123.60,226.40 123.62,225.96 123.67,225.52 123.78,225.10 123.93,224.69 124.13,224.29 124.35,223.89 124.60,223.50 124.85,223.11 125.07,222.71 125.27,222.31 125.42,221.90 125.53,221.48 125.58,221.04 125.60,220.60 125.59,220.15 125.57,219.70 125.55,219.25 125.55,218.80 125.57,218.36 125.63,217.93 125.72,217.50 125.84,217.08 125.98,216.67 126.12,216.25 126.27,215.84 126.39,215.42 126.50,215.00" fill="none" stroke="#1e1e1e" stroke-width="0.4"/><polyline points="122.70,233.50 122.86,233.07 123.03,232.64 123.19,232.20 123.33,231.77 123.45,231.32 123.54,230.87 123.60,230.41 123.64,229.94 123.67,229.47 123.71,229.00 123.76,228.53 123.84,228.08 123.96,227.63 124.13,227.20 124.34,226.78 124.58,226.37 124.85,225.97 125.12,225.57 125.39,225.17 125.63,224.76 125.83,224.34 125.98,223.90 126.08,223.45 126.14,222.99 126.16,222.52 126.16,222.04 126.16,221.56 126.17,221.08 126.20,220.61 126.26,220.15 126.36,219.70 126.50,219.26 126.67,218.83 126.85,218.40 127.05,217.98 127.24,217.56 127.41,217.13 127.57,216.69 127.69,216.25 127.80,215.80" fill="none" stroke="#1e1e1e" stroke-width="0.4"/><polyline points="122.70,235.00 122.89,234.56 123.06,234.11 123.22,233.65 123.34,233.18 123.45,232.71 123.53,232.23 123.62,231.75 123.70,231.27 123.81,230.80 123.95,230.34 124.12,229.89 124.34,229.45 124.59,229.03 124.87,228.62 125.16,228.21 125.45,227.80 125.72,227.39 125.96,226.96 126.16,226.52 126.31,226.06 126.41,225.58 126.47,225.10 126.50,224.60 126.52,224.09 126.54,223.59 126.58,223.09 126.65,222.61 126.76,222.14 126.91,221.68 127.10,221.24 127.32,220.80 127.56,220.38 127.80,219.95 128.04,219.52 128.25,219.09 128.45,218.65 128.61,218.19 128.75,217.73 128.88,217.27 129.00,216.80" fill="none" stroke="#1e1e1e" stroke-width="0.4"/><polyline points="122.70,236.50 122.89,236.04 123.05,235.58 123.20,235.11 123.33,234.63 123.45,234.15 123.59,233.67 123.74,233.20 123.92,232.74 124.14,232.30 124.38,231.87 124.66,231.45 124.96,231.04 125.26,230.63 125.56,230.22 125.83,229.79 126.06,229.35 126.25,228.90 126.39,228.43 126.49,227.93 126.55,227.43 126.59,226.92 126.63,226.40 126.68,225.89 126.76,225.39 126.87,224.91 127.03,224.44 127.24,223.99 127.48,223.56 127.75,223.14 128.03,222.72 128.32,222.30 128.59,221.88 128.84,221.45 129.06,221.01 129.25,220.55 129.41,220.09 129.56,219.61 129.70,219.14 129.84,218.67 130.00,218.20" fill="none" stroke="#1e1e1e" stroke-width="0.4"/><polyline points="122.70,238.00 122.88,237.54 123.04,237.07 123.20,236.60 123.37,236.14 123.56,235.68 123.77,235.23 124.01,234.80 124.27,234.38 124.57,233.97 124.87,233.56 125.17,233.16 125.46,232.75 125.72,232.32 125.94,231.88 126.12,231.42 126.25,230.94 126.35,230.44 126.42,229.93 126.48,229.42 126.55,228.91 126.64,228.41 126.76,227.92 126.92,227.45 127.13,227.01 127.38,226.58 127.67,226.17 127.99,225.77 128.31,225.37 128.62,224.97 128.92,224.56 129.18,224.14 129.42,223.71 129.62,223.26 129.79,222.79 129.94,222.32 130.09,221.85 130.24,221.37 130.41,220.91 130.59,220.45 130.80,220.00" fill="none" stroke="#1e1e1e" stroke-width="0.4"/><polyline points="122.70,239.50 122.88,239.05 123.06,238.59 123.26,238.15 123.48,237.72 123.73,237.29 124.00,236.89 124.28,236.48 124.58,236.09 124.87,235.69 125.14,235.28 125.38,234.85 125.58,234.41 125.75,233.95 125.88,233.47 125.98,232.98 126.06,232.48 126.14,231.98 126.23,231.48 126.35,231.00 126.51,230.54 126.72,230.10 126.97,229.68 127.26,229.28 127.59,228.90 127.92,228.52 128.27,228.14 128.59,227.76 128.89,227.37 129.16,226.96 129.39,226.53 129.58,226.08 129.74,225.62 129.89,225.15 130.03,224.67 130.17,224.21 130.34,223.74 130.52,223.29 130.73,222.85 130.96,222.42 131.20,222.00" fill="none" stroke="#1e1e1e" stroke-width="0.4"/>
<text x="132.40" y="217.60">LED</text>
<text x="132.40" y="228.80">driver</text>
<text x="32.40" y="240.80">μLED device</text>
<line x1="74.40" y1="242.80" x2="101.60" y2="262.20" stroke="#222" stroke-width="0.7"/>
<text x="47.40" y="265.00">Camera</text>
<path d="M32,278.2 C38,274 48,272.8 57,272.5" fill="none" stroke="#4e6e7e" stroke-width="0.7"/>
<path d="M58,266.3 H80.8 A6.2,6.2 0 0 1 80.8,278.7 H58 Q56.6,278.7 56.6,277.2 V267.8 Q56.6,266.3 58,266.3 Z" fill="#555555"/>
<ellipse cx="95.8" cy="273.2" rx="3.2" ry="4.3" fill="#80b6f6" filter="url(#blur1)"/>
<text x="132.40" y="258.00">Tank</text>
<line x1="118.40" y1="268.80" x2="130.80" y2="258.80" stroke="#222" stroke-width="0.7"/>
<text x="145.30" y="272.80">Lid</text>
<line x1="134.80" y1="286.60" x2="146.40" y2="275.80" stroke="#222" stroke-width="0.7"/>
<text x="197.00" y="195.90">d</text>
<text x="243.60" y="198.00">μLEDs continually pulsed at 5 mA</text>
<line x1="237.30" y1="203.70" x2="237.30" y2="321.00" stroke="#231f20" stroke-width="1"/>
<line x1="236.80" y1="320.60" x2="454.60" y2="320.60" stroke="#231f20" stroke-width="1"/>
<line x1="234.70" y1="320.30" x2="237.30" y2="320.30" stroke="#231f20" stroke-width="1"/>
<text x="232.40" y="323.60" text-anchor="end">0</text>
<line x1="234.70" y1="304.68" x2="237.30" y2="304.68" stroke="#231f20" stroke-width="1"/>
<text x="232.40" y="307.98" text-anchor="end">0.2</text>
<line x1="234.70" y1="289.06" x2="237.30" y2="289.06" stroke="#231f20" stroke-width="1"/>
<text x="232.40" y="292.36" text-anchor="end">0.4</text>
<line x1="234.70" y1="273.44" x2="237.30" y2="273.44" stroke="#231f20" stroke-width="1"/>
<text x="232.40" y="276.74" text-anchor="end">0.6</text>
<line x1="234.70" y1="257.82" x2="237.30" y2="257.82" stroke="#231f20" stroke-width="1"/>
<text x="232.40" y="261.12" text-anchor="end">0.8</text>
<line x1="234.70" y1="242.20" x2="237.30" y2="242.20" stroke="#231f20" stroke-width="1"/>
<text x="232.40" y="245.50" text-anchor="end">1</text>
<line x1="234.70" y1="226.58" x2="237.30" y2="226.58" stroke="#231f20" stroke-width="1"/>
<text x="232.40" y="229.88" text-anchor="end">1.2</text>
<line x1="234.70" y1="210.96" x2="237.30" y2="210.96" stroke="#231f20" stroke-width="1"/>
<text x="232.40" y="214.26" text-anchor="end">1.4</text>
<line x1="237.30" y1="320.60" x2="237.30" y2="323.20" stroke="#231f20" stroke-width="1"/>
<text x="237.30" y="333.20" text-anchor="middle">0</text>
<line x1="309.60" y1="320.60" x2="309.60" y2="323.20" stroke="#231f20" stroke-width="1"/>
<text x="309.60" y="333.20" text-anchor="middle">5</text>
<line x1="381.90" y1="320.60" x2="381.90" y2="323.20" stroke="#231f20" stroke-width="1"/>
<text x="381.90" y="333.20" text-anchor="middle">10</text>
<line x1="454.20" y1="320.60" x2="454.20" y2="323.20" stroke="#231f20" stroke-width="1"/>
<text x="454.20" y="333.20" text-anchor="middle">15</text>
<text x="425.20" y="333.20" text-anchor="middle" fill="#cc3333">13.5</text>
<text x="341.60" y="349.60" text-anchor="middle">Elapsed time (in-vivo equivalent) (days)</text>
<text x="0" y="0" text-anchor="middle" transform="translate(205.80,268.00) rotate(-90)">Normalised voltage (a.u.)</text>
<polyline points="237.30,242.32 238.46,242.49 239.61,242.89 240.77,243.09 241.93,243.39 243.08,243.97 244.24,244.30 244.53,243.99 245.40,244.58 246.55,245.01 247.71,245.07 248.87,245.73 250.02,245.56 251.18,245.74 252.34,245.67 253.50,245.90 254.65,245.68 255.81,245.58 256.97,245.75 258.12,245.65 259.28,245.69 260.44,245.98 261.59,245.66 262.75,245.74 263.91,245.89 265.06,246.02 266.22,245.63 267.38,245.82 268.53,245.71 269.69,245.65 270.85,245.73 272.00,245.64 273.16,245.89 274.32,245.71 275.47,245.88 276.63,245.65 277.79,245.69 278.94,246.06 280.10,246.05 281.26,246.02 282.42,245.67 283.57,245.92 284.73,245.84 285.89,246.00 287.04,245.91 288.20,245.97 289.36,245.99 290.51,245.89 291.67,245.90 292.83,245.75 293.98,245.86 295.14,245.75 296.30,245.79 297.45,245.74 298.61,245.89 299.77,246.14 300.92,245.82 302.08,245.77 303.24,245.81 304.39,245.97 305.55,245.91 306.71,246.15 307.86,245.87 309.02,245.99 310.18,246.13 311.34,246.24 312.49,245.88 313.65,245.82 314.81,246.25 315.96,245.92 317.12,246.11 318.28,246.24 319.43,246.18 320.59,245.96 321.75,245.92 322.90,246.31 324.06,246.05 324.35,245.93 325.22,245.61 326.37,245.79 327.53,245.54 328.69,245.49 329.84,245.71 331.00,245.48 332.16,245.80 333.31,245.91 334.47,245.67 335.63,245.93 336.78,245.86 337.94,245.76 339.10,245.66 340.26,245.88 341.41,245.93 342.57,245.54 343.73,245.80 344.88,245.50 346.04,245.53 347.20,245.77 348.35,245.73 349.51,245.71 350.67,245.65 351.82,245.67 352.98,245.69 354.14,245.66 355.29,245.51 356.45,245.71 357.61,245.75 358.76,245.61 359.92,245.84 361.08,245.81 362.23,245.49 363.39,245.70 364.55,245.69 365.70,245.94 366.86,245.75 368.02,245.68 369.18,245.94 370.33,245.66 371.49,245.65 372.65,245.92 373.80,245.65 374.96,245.73 376.12,245.63 377.27,245.78 378.43,245.62 379.59,245.60 380.74,245.94 381.90,245.92 383.06,245.63 384.21,245.50 385.37,245.83 386.53,245.73 387.68,245.67 388.84,245.80 390.00,245.78 391.15,245.80 392.31,245.78 393.47,245.67 394.62,245.81 395.78,245.77 396.94,245.59 398.10,245.94 399.25,245.68 400.41,245.60 401.57,245.80 402.72,245.84 403.88,245.57 405.04,245.84 406.19,245.86 407.35,245.74 408.51,245.62 409.66,245.90 410.82,245.80 411.98,245.79 413.13,245.56 414.29,245.74 415.45,245.55 416.60,245.87 417.76,245.79 418.92,245.64 420.07,245.53 421.23,245.74 422.39,245.84 423.54,245.89 424.70,245.70 425.86,245.86 427.02,245.57 428.17,245.56 429.33,245.86 430.49,245.82 431.64,245.57 432.51,245.65 432.80,245.57 433.96,245.79 435.11,245.89 436.27,245.81 437.43,245.58 438.58,245.82 439.74,245.79 440.90,245.75 442.05,245.75 443.21,245.76 444.37,245.52 445.52,245.88 446.68,245.95 447.84,245.51 448.99,245.54 450.15,245.49 451.31,245.75 452.46,245.50 452.75,245.51" fill="none" stroke="#72b4b4" stroke-width="1.0" stroke-linejoin="round" stroke-opacity="0.9"/>
<polyline points="237.30,242.33 238.46,242.40 239.61,242.67 240.77,243.06 241.93,243.44 243.08,243.86 244.24,244.15 244.53,244.28 245.40,244.59 246.55,244.66 247.71,245.11 248.87,245.18 250.02,245.54 251.18,245.15 252.34,245.25 253.50,245.15 254.65,245.17 255.81,245.17 256.97,245.33 258.12,245.60 259.28,245.26 260.44,245.54 261.59,245.48 262.75,245.32 263.91,245.39 265.06,245.45 266.22,245.21 267.38,245.37 268.53,245.50 269.69,245.55 270.85,245.27 272.00,245.45 273.16,245.32 274.32,245.53 275.47,245.60 276.63,245.45 277.79,245.33 278.94,245.63 280.10,245.35 281.26,245.29 282.42,245.35 283.57,245.35 284.73,245.74 285.89,245.46 287.04,245.35 288.20,245.74 289.36,245.64 290.51,245.65 291.67,245.53 292.83,245.59 293.98,245.57 295.14,245.43 296.30,245.80 297.45,245.78 298.61,245.76 299.77,245.76 300.92,245.80 302.08,245.38 303.24,245.44 304.39,245.81 305.55,245.62 306.71,245.71 307.86,245.72 309.02,245.71 310.18,245.57 311.34,245.61 312.49,245.72 313.65,245.81 314.81,245.75 315.96,245.85 317.12,245.65 318.28,245.58 319.43,245.75 320.59,245.89 321.75,245.85 322.90,245.77 324.06,245.67 324.35,245.19 325.22,245.38 326.37,245.18 327.53,245.25 328.69,245.34 329.84,245.36 331.00,245.30 332.16,245.20 333.31,245.33 334.47,245.20 335.63,245.30 336.78,245.40 337.94,245.26 339.10,245.18 340.26,245.47 341.41,245.30 342.57,245.29 343.73,245.08 344.88,245.05 346.04,245.30 347.20,245.06 348.35,245.10 349.51,245.34 350.67,245.25 351.82,245.40 352.98,245.07 354.14,245.14 355.29,245.03 356.45,245.07 357.61,245.13 358.76,245.09 359.92,245.17 361.08,245.38 362.23,245.15 363.39,245.42 364.55,245.35 365.70,245.05 366.86,245.38 368.02,245.36 369.18,245.35 370.33,244.98 371.49,245.30 372.65,245.37 373.80,244.99 374.96,245.32 376.12,244.98 377.27,245.05 378.43,244.97 379.59,244.91 380.74,245.08 381.90,244.98 383.06,245.33 384.21,244.98 385.37,245.10 386.53,245.00 387.68,245.28 388.84,244.97 390.00,244.88 391.15,245.29 392.31,245.16 393.47,245.04 394.62,244.92 395.78,245.19 396.94,245.21 398.10,245.17 399.25,245.00 400.41,244.93 401.57,245.10 402.72,245.10 403.88,245.09 405.04,245.10 406.19,245.07 407.35,245.22 408.51,245.02 409.66,244.79 410.82,245.05 411.98,244.89 413.13,245.16 414.29,244.91 415.45,244.88 416.60,244.91 417.76,244.98 418.92,244.99 420.07,244.91 421.23,244.79 422.39,245.13 423.54,245.16 424.70,244.85 425.86,244.76 427.02,244.95 428.17,244.98 429.33,244.84 430.49,245.09 431.64,245.05 432.51,245.07 432.80,244.90 433.96,245.05 435.11,245.11 436.27,244.92 437.43,244.82 438.58,245.15 439.74,244.98 440.90,245.14 442.05,244.95 443.21,245.10 444.37,245.27 445.52,245.32 446.68,245.43 447.84,245.24 448.99,245.31 450.15,245.43 451.31,245.36 452.46,245.40 452.75,245.20" fill="none" stroke="#84c0c4" stroke-width="1.0" stroke-linejoin="round" stroke-opacity="0.9"/>
<polyline points="237.30,242.37 238.46,242.28 239.61,242.83 240.77,243.09 241.93,243.46 243.08,243.61 244.24,243.92 244.53,244.13 245.40,244.32 246.55,244.41 247.71,244.56 248.87,244.98 250.02,244.83 251.18,244.73 252.34,244.96 253.50,245.07 254.65,245.08 255.81,244.85 256.97,244.88 258.12,244.75 259.28,244.80 260.44,245.09 261.59,245.12 262.75,245.09 263.91,245.13 265.06,244.89 266.22,244.82 267.38,244.80 268.53,245.11 269.69,244.83 270.85,245.09 272.00,245.04 273.16,244.90 274.32,245.21 275.47,245.21 276.63,244.86 277.79,245.12 278.94,245.09 280.10,244.99 281.26,244.95 282.42,245.27 283.57,245.12 284.73,245.08 285.89,245.06 287.04,245.19 288.20,245.02 289.36,244.85 290.51,245.11 291.67,245.05 292.83,245.25 293.98,245.18 295.14,245.00 296.30,245.26 297.45,244.90 298.61,244.90 299.77,245.28 300.92,244.89 302.08,245.16 303.24,244.98 304.39,244.99 305.55,245.21 306.71,245.03 307.86,245.05 309.02,244.98 310.18,245.23 311.34,245.01 312.49,244.92 313.65,245.05 314.81,245.12 315.96,245.32 317.12,245.15 318.28,245.22 319.43,245.05 320.59,245.07 321.75,245.13 322.90,245.31 324.06,245.10 324.35,244.48 325.22,244.69 326.37,244.35 327.53,244.46 328.69,244.70 329.84,244.32 331.00,244.69 332.16,244.59 333.31,244.41 334.47,244.46 335.63,244.48 336.78,244.43 337.94,244.51 339.10,244.58 340.26,244.64 341.41,244.68 342.57,244.38 343.73,244.35 344.88,244.45 346.04,244.35 347.20,244.53 348.35,244.57 349.51,244.51 350.67,244.27 351.82,244.66 352.98,244.44 354.14,244.55 355.29,244.31 356.45,244.50 357.61,244.50 358.76,244.46 359.92,244.40 361.08,244.28 362.23,244.48 363.39,244.24 364.55,244.58 365.70,244.50 366.86,244.58 368.02,244.57 369.18,244.25 370.33,244.27 371.49,244.52 372.65,244.51 373.80,244.40 374.96,244.25 376.12,244.21 377.27,244.24 378.43,244.30 379.59,244.51 380.74,244.39 381.90,244.48 383.06,244.32 384.21,244.29 385.37,244.46 386.53,244.44 387.68,244.18 388.84,244.53 390.00,244.16 391.15,244.12 392.31,244.09 393.47,244.35 394.62,244.26 395.78,244.25 396.94,244.22 398.10,244.05 399.25,244.19 400.41,244.36 401.57,244.10 402.72,244.27 403.88,244.21 405.04,244.15 406.19,244.48 407.35,244.12 408.51,244.16 409.66,244.24 410.82,244.22 411.98,244.25 413.13,244.37 414.29,244.20 415.45,244.43 416.60,244.21 417.76,244.14 418.92,244.23 420.07,244.17 421.23,243.98 422.39,244.01 423.54,244.36 424.70,244.04 425.86,244.12 427.02,244.38 428.17,244.23 429.33,244.29 430.49,244.36 431.64,244.14 432.51,243.95 432.80,244.24 433.96,243.98 435.11,244.06 436.27,244.32 437.43,243.98 438.58,244.11 439.74,243.95 440.90,244.05 442.05,244.04 443.21,244.23 444.37,244.01 445.52,243.95 446.68,243.98 447.84,244.18 448.99,244.03 450.15,244.16 451.31,244.34 452.46,244.37 452.75,244.35" fill="none" stroke="#98dcb4" stroke-width="0.8" stroke-linejoin="round" stroke-opacity="0.9"/>
<polyline points="237.30,242.34 238.46,242.63 239.61,242.75 240.77,242.93 241.93,243.28 243.08,243.61 244.24,243.78 244.53,244.01 245.40,243.98 246.55,243.91 247.71,244.14 248.87,244.30 250.02,243.97 251.18,244.05 252.34,244.21 253.50,244.21 254.65,244.14 255.81,244.11 256.97,244.28 258.12,244.39 259.28,244.29 260.44,244.02 261.59,244.32 262.75,244.17 263.91,244.30 265.06,244.29 266.22,244.31 267.38,244.20 268.53,244.31 269.69,244.37 270.85,244.34 272.00,244.31 273.16,244.16 274.32,244.36 275.47,244.38 276.63,244.18 277.79,244.20 278.94,244.06 280.10,244.36 281.26,244.20 282.42,244.20 283.57,244.37 284.73,243.93 285.89,244.28 287.04,244.34 288.20,244.16 289.36,244.31 290.51,244.10 291.67,244.22 292.83,244.33 293.98,244.36 295.14,244.05 296.30,244.26 297.45,244.02 298.61,244.17 299.77,243.95 300.92,244.25 302.08,244.27 303.24,244.26 304.39,244.01 305.55,244.09 306.71,244.23 307.86,244.34 309.02,244.07 310.18,243.93 311.34,244.11 312.49,244.39 313.65,244.37 314.81,244.34 315.96,244.31 317.12,244.37 318.28,244.36 319.43,244.08 320.59,243.96 321.75,244.29 322.90,243.93 324.06,244.16 324.35,243.62 325.22,243.56 326.37,243.55 327.53,243.97 328.69,243.84 329.84,243.69 331.00,243.53 332.16,243.93 333.31,243.83 334.47,243.56 335.63,243.90 336.78,243.77 337.94,243.79 339.10,243.62 340.26,243.50 341.41,243.85 342.57,243.58 343.73,243.58 344.88,243.53 346.04,243.66 347.20,243.48 348.35,243.74 349.51,243.71 350.67,243.79 351.82,243.53 352.98,243.67 354.14,243.76 355.29,243.81 356.45,243.54 357.61,243.59 358.76,243.54 359.92,243.69 361.08,243.64 362.23,243.79 363.39,243.52 364.55,243.84 365.70,243.63 366.86,243.49 368.02,243.52 369.18,243.79 370.33,243.72 371.49,243.43 372.65,243.52 373.80,243.41 374.96,243.40 376.12,243.60 377.27,243.38 378.43,243.46 379.59,243.64 380.74,243.62 381.90,243.75 383.06,243.60 384.21,243.33 385.37,243.73 386.53,243.51 387.68,243.72 388.84,243.73 390.00,243.46 391.15,243.64 392.31,243.73 393.47,243.68 394.62,243.44 395.78,243.46 396.94,243.73 398.10,243.62 399.25,243.27 400.41,243.62 401.57,243.45 402.72,243.52 403.88,243.34 405.04,243.42 406.19,243.33 407.35,243.45 408.51,243.60 409.66,243.61 410.82,243.65 411.98,243.29 413.13,243.62 414.29,243.66 415.45,243.21 416.60,243.57 417.76,243.24 418.92,243.61 420.07,243.43 421.23,243.54 422.39,243.25 423.54,243.35 424.70,243.33 425.86,243.27 427.02,243.22 428.17,243.46 429.33,243.33 430.49,243.40 431.64,243.56 432.51,243.21 432.80,243.33 433.96,243.22 435.11,243.51 436.27,243.35 437.43,243.39 438.58,243.26 439.74,243.57 440.90,243.44 442.05,243.38 443.21,243.57 444.37,243.35 445.52,243.26 446.68,243.41 447.84,243.30 448.99,243.32 450.15,243.51 451.31,243.44 452.46,243.14 452.75,243.45" fill="none" stroke="#94e4a8" stroke-width="0.8" stroke-linejoin="round" stroke-opacity="0.9"/>
<polyline points="237.30,242.24 238.46,242.77 239.61,243.00 240.77,243.35 241.93,243.18 243.08,243.62 244.24,243.84 244.53,243.85 245.40,244.47 246.55,244.79 247.71,245.56 248.87,246.16 250.02,245.83 251.18,245.87 252.34,245.84 253.50,246.14 254.65,245.96 255.81,246.20 256.97,245.84 258.12,245.89 259.28,246.29 260.44,245.89 261.59,246.37 262.75,246.43 263.91,246.04 265.06,246.32 266.22,246.18 267.38,246.11 268.53,246.49 269.69,246.06 270.85,246.36 272.00,246.27 273.16,246.33 274.32,246.09 275.47,246.09 276.63,246.38 277.79,246.50 278.94,246.39 280.10,246.32 281.26,246.54 282.42,246.50 283.57,246.12 284.73,246.17 285.89,246.00 287.04,246.00 288.20,246.07 289.36,246.39 290.51,246.53 291.67,246.44 292.83,246.36 293.98,246.32 295.14,246.32 296.30,246.44 297.45,246.14 298.61,246.50 299.77,246.39 300.92,246.13 302.08,246.19 303.24,246.51 304.39,246.55 305.55,246.21 306.71,246.71 307.86,246.64 309.02,246.40 310.18,246.40 311.34,246.64 312.49,246.72 313.65,246.63 314.81,246.28 315.96,246.47 317.12,246.16 318.28,246.29 319.43,246.17 320.59,246.77 321.75,246.68 322.90,246.79 324.06,246.54 324.35,246.21 325.22,246.39 326.37,246.08 327.53,246.36 328.69,246.22 329.84,246.26 331.00,245.92 332.16,246.16 333.31,246.25 334.47,246.39 335.63,246.15 336.78,246.03 337.94,246.00 339.10,245.85 340.26,245.91 341.41,246.26 342.57,246.33 343.73,245.94 344.88,245.92 346.04,246.10 347.20,245.90 348.35,246.07 349.51,246.24 350.67,246.31 351.82,246.41 352.98,246.02 354.14,245.86 355.29,245.85 356.45,246.13 357.61,246.00 358.76,245.84 359.92,245.91 361.08,246.04 362.23,246.16 363.39,246.09 364.55,246.31 365.70,246.30 366.86,245.99 368.02,245.80 369.18,246.08 370.33,246.16 371.49,246.20 372.65,246.13 373.80,245.92 374.96,246.13 376.12,245.82 377.27,246.32 378.43,246.22 379.59,246.09 380.74,246.16 381.90,245.89 383.06,245.90 384.21,245.84 385.37,246.03 386.53,246.40 387.68,246.06 388.84,246.07 390.00,246.11 391.15,246.24 392.31,245.97 393.47,245.85 394.62,246.35 394.77,250.01 395.06,246.11 395.78,246.00 396.94,246.19 398.10,246.10 399.25,245.86 400.41,245.82 401.57,246.02 402.72,246.30 403.88,245.84 405.04,246.30 406.19,246.18 407.35,245.90 408.51,246.22 409.66,246.25 410.82,245.82 410.96,251.57 411.25,246.11 411.98,245.83 413.13,246.22 414.29,246.17 415.45,246.24 416.60,246.34 417.76,246.26 418.92,245.80 420.07,246.37 421.23,246.27 422.39,246.29 423.54,246.37 424.70,246.09 424.85,249.23 425.14,246.11 425.86,245.95 426.00,249.23 426.29,246.11 427.02,245.89 428.17,246.02 429.33,245.91 430.49,246.41 431.64,246.24 432.51,245.82 432.80,246.37 433.96,246.25 435.11,246.12 436.27,246.25 437.43,246.08 438.58,246.39 439.74,246.27 439.88,250.01 440.17,246.11 440.90,245.82 442.05,246.33 443.21,245.85 444.37,246.31 445.52,245.80 446.68,246.00 447.84,246.01 448.99,246.33 450.15,246.38 451.31,245.94 452.46,246.31 452.75,246.30" fill="none" stroke="#9cc2dc" stroke-width="0.8" stroke-linejoin="round" stroke-opacity="0.9"/>
<polyline points="237.30,242.05 238.46,242.27 239.61,242.91 240.77,242.73 241.93,243.18 243.08,243.50 244.24,243.88 244.53,243.81 245.40,243.16 246.55,242.99 247.71,242.56 248.87,242.05 250.02,241.56 251.18,240.96 251.76,240.44 252.34,240.85 253.50,240.82 254.65,240.49 255.81,240.49 256.97,240.53 258.12,240.89 259.28,240.87 260.44,240.61 261.59,240.86 262.75,240.78 263.91,240.99 265.06,241.15 266.22,241.02 267.38,240.86 268.53,240.87 269.69,240.99 270.85,241.07 272.00,241.06 273.16,241.13 274.32,241.11 275.47,240.99 276.63,241.32 277.79,241.16 278.94,241.02 280.10,241.09 281.26,241.43 282.42,241.08 283.57,241.17 284.73,241.51 285.89,241.48 287.04,241.54 288.20,241.63 289.36,241.23 290.51,241.52 291.67,241.33 292.83,241.71 293.98,241.78 295.14,241.40 296.30,241.46 297.45,241.39 298.61,241.56 299.77,241.66 300.92,241.58 302.08,241.92 303.24,241.73 304.39,241.80 305.55,241.97 306.71,241.78 307.86,241.93 309.02,241.87 310.18,241.96 311.34,242.01 312.49,242.02 313.65,241.93 314.81,241.77 315.96,241.82 317.12,241.88 318.28,241.92 319.43,242.20 320.59,241.90 321.75,242.26 322.90,242.35 324.06,242.20 324.35,238.58 325.22,238.75 326.37,238.59 327.53,238.75 328.69,238.41 329.84,238.64 331.00,238.61 332.16,238.57 333.31,238.40 334.47,238.33 335.63,238.53 336.78,238.56 337.94,238.46 339.10,238.71 340.26,238.52 341.41,238.31 342.57,238.33 343.73,238.65 344.88,238.27 346.04,238.47 347.20,238.18 348.35,238.45 349.51,238.51 350.67,238.34 351.82,238.17 352.98,238.37 354.14,238.15 355.29,238.21 356.45,238.36 357.61,238.37 358.76,238.26 359.92,238.29 361.08,238.29 362.23,238.15 363.39,238.03 364.55,238.15 365.70,238.34 366.86,238.29 368.02,238.21 369.18,238.08 370.33,238.29 371.49,238.30 372.65,238.17 373.80,238.18 374.96,238.28 376.12,238.03 377.27,237.84 378.43,238.00 379.59,237.89 380.74,237.84 381.90,237.82 383.06,237.77 384.21,237.98 385.37,237.85 386.53,238.10 387.68,237.73 388.84,237.95 390.00,237.89 391.15,237.68 392.31,237.95 393.47,237.98 394.62,237.67 395.78,237.76 396.94,237.99 398.10,238.00 399.25,237.83 400.41,237.98 401.57,237.58 402.72,237.87 403.88,237.81 405.04,237.74 406.19,237.67 407.35,237.70 408.51,237.59 409.66,237.56 410.82,237.65 411.98,237.80 413.13,237.37 414.29,237.49 415.45,237.76 416.60,237.58 417.76,237.42 418.92,237.29 419.50,237.72 420.07,237.71 421.23,237.42 422.39,237.38 423.54,237.09 424.70,237.06 425.86,237.22 427.02,237.11 428.17,236.97 429.33,236.76 430.49,237.01 431.64,236.85 432.80,236.93 433.96,236.60 435.11,236.82 436.27,236.33 437.43,236.45 438.58,236.36 439.74,236.52 440.90,236.38 442.05,236.20 443.21,235.95 444.37,236.04 445.52,236.09 446.68,235.69 447.84,235.77 448.99,235.77 450.15,235.85 451.31,235.74 452.46,235.39 452.75,235.73" fill="none" stroke="#94a2ea" stroke-width="0.8" stroke-linejoin="round" stroke-opacity="0.9"/>
<polyline points="237.30,242.19 238.46,242.39 239.61,242.77 240.77,242.82 241.93,243.01 243.08,243.28 244.24,243.59 244.53,243.90 245.40,243.50 246.55,242.70 247.71,242.13 248.87,241.56 250.02,240.62 251.18,240.30 251.76,239.71 252.34,239.66 253.50,240.07 254.65,239.73 255.81,239.99 256.97,240.10 258.12,240.14 259.28,240.24 260.44,240.05 261.59,240.12 262.75,239.93 263.91,239.96 265.06,240.35 266.22,240.22 267.38,240.25 268.53,240.37 269.69,240.36 270.85,240.38 272.00,240.20 273.16,240.39 274.32,240.53 275.47,240.50 276.63,240.42 277.79,240.39 278.94,240.56 280.10,240.38 281.26,240.63 282.42,240.44 283.57,240.49 284.73,240.72 285.89,240.48 287.04,240.67 288.20,240.63 289.36,240.62 290.51,240.63 291.67,240.75 292.83,240.95 293.98,240.63 295.14,240.63 296.30,240.82 297.45,240.81 298.61,240.98 299.77,240.71 300.92,240.83 302.08,241.07 303.24,240.82 304.39,240.77 305.55,241.09 306.71,240.81 307.86,241.08 309.02,241.24 310.18,241.02 311.34,241.22 312.49,241.06 313.65,241.15 314.81,241.40 315.96,241.23 317.12,241.10 318.28,241.30 319.43,241.30 320.59,241.17 321.75,241.39 322.90,241.40 324.06,241.38 324.35,239.71 325.22,239.98 326.37,240.01 327.53,239.68 328.69,239.76 329.84,239.86 331.00,239.56 332.16,239.55 333.31,239.69 334.47,239.46 335.63,239.51 336.78,239.54 337.94,239.73 339.10,239.84 340.26,239.51 341.41,239.47 342.57,239.63 343.73,239.55 344.88,239.49 346.04,239.62 347.20,239.39 348.35,239.43 349.51,239.50 350.67,239.61 351.82,239.38 352.98,239.47 354.14,239.26 355.29,239.50 356.45,239.38 357.61,239.45 358.76,239.34 359.92,239.24 361.08,239.44 362.23,239.44 363.39,239.22 364.55,239.34 365.70,239.18 366.86,239.32 368.02,239.33 369.18,239.10 370.33,238.90 371.49,238.91 372.65,239.06 373.80,239.09 374.96,239.23 376.12,239.11 377.27,239.08 378.43,238.76 379.59,239.13 380.74,238.72 381.90,238.92 383.06,238.92 384.21,238.99 385.37,238.64 386.53,238.98 387.68,238.78 388.84,238.79 390.00,238.92 391.15,238.89 392.31,238.51 393.47,238.59 394.62,238.59 395.78,238.50 396.94,238.85 398.10,238.55 399.25,238.51 400.41,238.74 401.57,238.61 402.72,238.35 403.88,238.63 405.04,238.41 406.19,238.67 407.35,238.42 408.51,238.58 409.66,238.45 410.82,238.50 411.98,238.24 413.13,238.28 414.29,238.38 415.45,238.27 416.60,238.38 417.76,238.18 418.92,238.42 419.50,238.27 420.07,238.24 421.23,238.31 422.39,238.44 423.54,238.35 424.70,238.11 425.86,238.28 427.02,238.00 428.17,238.09 429.33,237.85 430.49,237.87 431.64,237.90 432.80,238.04 433.96,238.17 435.11,237.90 436.27,237.79 437.43,237.68 438.58,237.99 439.74,237.98 440.90,237.57 442.05,237.65 443.21,237.75 444.37,237.60 445.52,237.85 446.68,237.64 447.84,237.55 448.99,237.55 450.15,237.73 451.31,237.72 452.46,237.46 452.75,237.33" fill="none" stroke="#98b2e4" stroke-width="0.8" stroke-linejoin="round" stroke-opacity="0.9"/>
<polyline points="237.30,242.43 238.46,242.88 239.61,243.21 240.77,243.15 241.93,243.77 243.08,244.10 244.24,244.14 244.53,244.47 245.40,243.94 246.55,242.67 247.71,242.11 248.87,240.93 250.02,239.67 251.18,239.00 251.76,238.59 252.34,237.97 253.50,237.47 254.65,236.44 255.81,236.36 256.10,235.76 256.97,236.49 258.12,236.85 259.28,237.70 260.44,238.19 261.59,238.45 262.75,238.56 263.91,238.46 265.06,238.29 266.22,238.61 267.38,238.73 268.53,238.66 269.69,238.90 270.85,238.81 272.00,238.70 273.16,238.76 274.32,238.77 275.47,239.01 276.63,239.22 277.79,239.26 278.94,239.11 280.10,239.24 280.68,239.03 281.26,239.24 282.42,238.97 283.57,239.12 284.73,239.12 285.89,239.12 287.04,239.29 288.20,239.39 289.36,239.51 290.51,239.70 291.67,239.29 292.83,239.51 293.98,239.81 295.14,239.33 296.30,239.59 297.45,239.60 298.61,239.76 299.77,240.00 300.92,239.49 302.08,240.05 303.24,239.97 304.39,239.62 305.55,240.21 306.71,240.01 307.86,240.07 309.02,240.25 310.18,239.87 311.34,240.23 312.49,240.53 313.65,240.28 314.81,240.61 315.96,240.22 317.12,240.16 318.28,240.18 319.43,240.75 320.59,240.40 321.75,240.68 322.90,240.61 324.06,240.76 324.35,239.20 325.22,239.23 326.37,238.83 327.53,239.06 328.69,238.42 329.84,238.90 331.00,238.22 332.16,238.61 333.31,238.58 334.47,238.07 335.63,238.10 336.78,237.86 337.94,237.92 339.10,237.75 340.26,237.99 341.41,237.52 342.57,237.53 343.73,237.15 344.88,237.65 346.04,237.51 347.20,237.03 348.35,236.78 349.51,237.00 350.67,236.72 351.82,236.72 352.98,236.72 354.14,236.58 355.29,236.40 356.45,236.66 357.61,236.39 358.76,236.02 359.92,236.22 361.08,235.99 362.23,236.02 363.39,235.86 364.55,235.58 365.70,235.43 366.86,235.20 368.02,235.40 369.18,235.47 370.33,235.29 371.49,235.37 372.65,235.16 373.80,234.84 374.96,234.73 376.12,234.86 377.27,234.80 378.43,234.75 379.59,234.61 380.74,234.31 381.90,234.36 383.06,233.87 384.21,233.97 385.37,234.02 386.53,233.86 387.68,234.01 388.84,233.48 390.00,233.37 391.15,233.51 392.31,233.19 393.47,233.37 394.62,233.31 395.78,233.21 396.94,233.13 398.10,232.77 399.25,232.65 400.41,232.50 401.57,232.80 402.72,232.28 403.88,232.37 405.04,232.33 406.19,232.15 407.35,232.10 408.51,232.15 409.66,231.93 410.82,231.67 411.98,231.53 413.13,231.31 414.29,231.66 415.45,231.13 416.60,231.09 417.76,231.05 418.92,230.78 419.50,231.26 420.07,230.81 421.23,230.62 422.39,231.00 423.54,230.60 424.70,230.27 425.86,230.58 427.02,230.12 428.17,229.98 429.33,230.17 430.49,230.24 431.64,230.09 432.80,229.60 433.96,229.75 434.25,232.94 435.11,232.94 436.27,232.73 437.43,233.25 438.58,233.50 439.74,233.01 440.90,233.50 442.05,233.56 443.21,233.29 444.37,233.82 445.52,234.04 446.68,233.64 447.84,234.14 448.99,234.25 450.15,233.90 451.31,234.44 452.46,234.11 452.75,234.49" fill="none" stroke="#8c8cf0" stroke-width="0.8" stroke-linejoin="round" stroke-opacity="0.9"/>
<polyline points="237.30,242.38 238.46,242.72 239.61,242.66 240.77,242.89 241.93,243.29 243.08,243.44 244.24,243.89 244.53,243.45 245.40,242.65 246.55,241.88 247.71,240.89 248.87,240.65 250.02,239.54 250.31,239.35 251.18,238.93 252.34,237.54 253.50,236.98 254.65,236.34 255.81,236.66 256.97,237.06 258.12,236.75 259.28,237.08 260.44,236.27 261.59,236.85 262.75,236.81 263.91,236.18 265.06,236.86 266.22,236.16 267.38,236.72 268.53,236.37 269.69,236.88 270.85,236.12 272.00,236.57 273.16,236.60 274.32,236.29 275.47,236.33 276.63,236.64 277.79,236.74 278.94,236.30 280.10,236.80 280.68,235.99 281.26,236.50 282.42,236.70 283.57,236.58 284.73,236.81 285.89,236.65 287.04,236.47 288.20,236.63 289.36,236.73 290.51,236.80 291.67,236.65 292.83,236.41 293.98,236.76 295.14,236.48 296.30,236.78 297.45,237.15 298.61,237.14 299.77,236.53 300.92,236.91 302.08,237.03 303.24,236.94 304.39,236.66 305.55,237.13 306.71,237.18 307.86,237.20 309.02,237.57 309.60,237.08 310.18,237.19 311.34,237.27 312.49,237.40 313.65,237.48 314.81,237.34 315.96,237.93 317.12,237.28 318.28,238.19 319.43,237.58 320.59,238.32 321.75,237.83 322.90,238.43 324.06,238.69 324.35,239.04 325.22,238.67 326.37,238.54 327.53,238.39 328.69,238.17 329.84,238.92 331.00,238.49 332.16,238.62 333.31,237.89 334.47,238.06 335.63,237.66 336.78,237.49 337.94,237.18 339.10,237.36 340.26,237.05 341.41,237.24 342.57,237.55 343.73,236.67 344.88,237.30 346.04,237.18 347.20,236.36 348.35,236.76 349.51,236.28 350.67,236.75 351.82,236.46 352.98,235.86 354.14,236.38 355.29,235.81 356.45,235.29 357.61,235.84 358.76,235.26 359.92,235.10 361.08,235.10 362.23,234.84 363.39,234.78 364.55,235.30 365.70,235.01 366.86,234.57 368.02,234.04 368.89,234.66 369.18,234.00 370.33,233.18 371.49,231.25 371.78,231.32 372.65,231.19 373.80,230.97 374.96,231.39 376.12,230.76 377.27,230.61 378.43,230.48 379.59,230.94 380.74,230.91 381.90,230.90 383.06,230.13 384.21,230.48 385.37,230.45 386.53,230.25 387.68,230.01 388.84,230.28 389.13,230.25 390.00,229.72 391.15,229.54 392.31,229.82 393.47,229.86 394.62,228.89 395.78,228.91 396.94,228.87 398.10,228.88 399.25,228.19 400.41,228.52 401.57,228.55 402.72,228.49 403.88,228.09 405.04,227.69 406.19,227.74 407.35,227.03 407.93,227.22 408.51,227.46 409.66,227.39 410.82,227.56 411.98,227.66 413.13,227.89 414.29,227.98 415.45,228.13 416.60,227.93 417.76,228.65 418.92,228.21 419.50,228.72 420.07,228.08 421.23,228.54 422.39,227.90 423.54,227.67 424.70,227.16 425.86,227.38 427.02,227.06 428.17,226.92 429.33,225.90 430.49,225.26 431.06,225.49 431.64,223.13 432.51,219.83" fill="none" stroke="#8cf094" stroke-width="0.8" stroke-linejoin="round" stroke-opacity="0.9"/>
<polyline points="237.30,241.91 238.46,242.48 239.61,242.66 240.77,243.08 241.93,243.10 243.08,243.25 244.24,243.59 244.53,244.07 245.40,243.21 246.55,242.40 247.71,241.90 248.87,240.65 250.02,240.17 250.31,239.99 251.18,239.31 252.34,238.71 253.50,238.14 254.65,237.29 255.81,237.50 256.97,237.61 258.12,237.79 259.28,237.48 260.44,237.60 261.59,237.49 262.75,237.61 263.91,237.82 265.06,237.80 266.22,237.73 267.38,237.77 268.53,237.29 269.69,237.46 270.85,237.68 272.00,237.38 273.16,237.43 274.32,237.79 275.47,237.36 276.63,237.68 277.79,237.20 278.94,237.74 280.10,237.65 280.68,237.67 281.26,237.31 282.42,237.38 283.57,237.57 284.73,237.88 285.89,237.75 287.04,237.62 288.20,238.06 289.36,237.56 290.51,237.65 291.67,237.64 292.83,237.83 293.98,237.92 295.14,237.74 296.30,238.22 297.45,238.24 298.61,238.40 299.77,238.40 300.92,238.06 302.08,238.54 303.24,238.17 304.39,238.43 305.55,238.17 306.71,238.29 307.86,238.38 309.02,238.32 310.18,238.86 311.34,238.76 312.49,238.74 313.65,238.75 314.81,238.64 315.96,238.55 317.12,238.68 318.28,238.60 319.43,238.79 320.59,239.04 321.75,238.99 322.90,238.88 324.06,238.88 324.35,239.55 325.22,239.54 326.37,239.36 327.53,239.58 328.69,239.15 329.84,239.68 331.00,239.25 332.16,239.33 333.31,239.50 334.47,239.24 335.63,239.28 336.78,238.95 337.94,238.98 339.10,239.15 340.26,238.95 341.41,238.92 342.57,239.35 343.73,238.91 344.88,238.89 346.04,238.77 347.20,238.89 348.35,239.10 349.51,239.20 350.67,238.90 351.82,239.15 352.98,238.79 354.14,238.88 355.29,238.70 356.45,238.98 357.61,238.99 358.76,238.59 359.92,238.72 361.08,238.88 362.23,238.74 363.39,238.80 364.55,238.65 365.70,238.71 366.86,238.83 368.02,238.38 369.18,238.42 370.33,238.47 371.49,238.75 372.65,238.79 373.80,238.43 374.96,238.35 376.12,238.44 377.27,238.69 378.43,238.35 379.59,238.45 380.74,238.53 381.90,238.37 383.06,238.44 384.21,238.29 385.37,238.21 386.53,238.04 387.68,238.57 388.84,238.26 390.00,238.00 391.15,238.16 392.31,238.19 393.47,238.00 394.62,238.49 395.78,237.99 396.94,238.08 398.10,238.08 399.25,238.23 400.41,238.02 401.57,238.31 402.72,238.04 403.88,238.18 405.04,237.74 406.19,237.80 407.35,237.99 408.51,237.79 409.66,238.00 410.82,237.89 411.98,238.10 413.13,237.64 414.29,237.68 415.45,237.66 416.60,238.06 417.76,237.58 418.92,238.06 420.07,237.70 421.23,237.73 422.39,237.97 423.54,237.72 424.70,237.41 425.86,237.56 427.02,237.73 428.17,237.40 429.33,237.66 430.49,237.30 431.64,237.59 432.51,237.78 432.80,237.22 433.96,237.78 435.11,237.67 436.27,237.34 437.43,237.75 438.58,237.49 439.74,237.29 440.90,237.46 442.05,237.61 443.21,237.35 444.37,237.31 445.52,237.46 446.68,237.43 447.84,237.62 448.99,237.57 450.15,237.21 451.31,237.22 452.46,237.83 452.75,237.70" fill="none" stroke="#90ea9c" stroke-width="0.8" stroke-linejoin="round" stroke-opacity="0.9"/>
<polyline points="432.51,219.55 433.23,234.39 433.52,310.93 438.29,310.15 439.74,292.97 440.03,315.61 441.19,314.83" fill="none" stroke="#8cf094" stroke-width="0.9" stroke-linejoin="round"/>
<polyline points="441.19,219.55 441.48,304.68 442.63,303.12 443.36,281.25 444.08,219.55 444.51,289.06 452.75,290.62" fill="none" stroke="#8cf094" stroke-width="0.9" stroke-linejoin="round"/>
<polyline points="444.80,289.06 445.52,294.53 452.75,293.75" fill="none" stroke="#94a2ea" stroke-width="0.9" stroke-linejoin="round"/>
<polyline points="237.30,242.20 241.64,242.98 244.53,244.54 245.25,244.15 250.31,242.98 258.99,242.59 324.06,242.36 324.35,241.03 325.22,242.36 419.50,239.39 431.79,239.08 432.22,247.67 441.19,247.28 441.91,242.20 442.34,246.89 444.08,246.89 444.51,237.98 444.95,250.79 453.91,251.18" fill="none" stroke="#111" stroke-width="1.3" stroke-linejoin="round"/>
<line x1="431.00" y1="252.35" x2="431.00" y2="325.30" stroke="#d22c2c" stroke-width="1.6" stroke-dasharray="1.3,1.0"/>
<text x="427.60" y="277.20" text-anchor="end" fill="#cc3333">Device</text>
<text x="427.60" y="287.60" text-anchor="end" fill="#cc3333">failure</text>
<text x="427.60" y="298.60" text-anchor="end" fill="#cc3333">point</text>
<line x1="245.20" y1="260.20" x2="264.90" y2="260.20" stroke="#8c8cf0" stroke-width="1.9"/>
<line x1="245.20" y1="263.98" x2="264.90" y2="263.98" stroke="#94a2ea" stroke-width="1.9"/>
<line x1="245.20" y1="267.76" x2="264.90" y2="267.76" stroke="#98b2e4" stroke-width="1.9"/>
<line x1="245.20" y1="271.54" x2="264.90" y2="271.54" stroke="#9cc2dc" stroke-width="1.9"/>
<line x1="245.20" y1="275.32" x2="264.90" y2="275.32" stroke="#a0ccd4" stroke-width="1.9"/>
<line x1="245.20" y1="279.10" x2="264.90" y2="279.10" stroke="#9cd4c4" stroke-width="1.9"/>
<line x1="245.20" y1="282.88" x2="264.90" y2="282.88" stroke="#98dcb4" stroke-width="1.9"/>
<line x1="245.20" y1="286.66" x2="264.90" y2="286.66" stroke="#94e4a8" stroke-width="1.9"/>
<line x1="245.20" y1="290.44" x2="264.90" y2="290.44" stroke="#90ea9c" stroke-width="1.9"/>
<line x1="245.20" y1="294.22" x2="264.90" y2="294.22" stroke="#8cf094" stroke-width="1.9"/>
<text x="268.00" y="274.20">Tested</text>
<text x="268.00" y="284.60">μLEDs</text>
<line x1="245.20" y1="311.50" x2="264.90" y2="311.50" stroke="#111" stroke-width="1.8"/>
<text x="268.00" y="314.60">Mean</text>
<text x="482.50" y="196.10">e</text>
<text x="528.60" y="198.90">Before/after ~42.5 days</text>
<text x="528.60" y="210.20">(in-vivo equivalent)</text>
<line x1="521.90" y1="202.40" x2="521.90" y2="318.60" stroke="#231f20" stroke-width="1"/>
<line x1="519.30" y1="313.10" x2="521.90" y2="313.10" stroke="#231f20" stroke-width="1"/>
<text x="517.00" y="316.40" text-anchor="end">0</text>
<line x1="519.30" y1="280.60" x2="521.90" y2="280.60" stroke="#231f20" stroke-width="1"/>
<text x="517.00" y="283.90" text-anchor="end">0.5</text>
<line x1="519.30" y1="248.10" x2="521.90" y2="248.10" stroke="#231f20" stroke-width="1"/>
<text x="517.00" y="251.40" text-anchor="end">1</text>
<line x1="519.30" y1="215.60" x2="521.90" y2="215.60" stroke="#231f20" stroke-width="1"/>
<text x="517.00" y="218.90" text-anchor="end">1.5</text>
<line x1="529.10" y1="319.30" x2="591.70" y2="319.30" stroke="#231f20" stroke-width="1"/>
<line x1="622.20" y1="319.30" x2="685.00" y2="319.30" stroke="#231f20" stroke-width="1"/>
<line x1="545.50" y1="319.30" x2="545.50" y2="321.80" stroke="#231f20" stroke-width="1"/>
<line x1="576.00" y1="319.30" x2="576.00" y2="321.80" stroke="#231f20" stroke-width="1"/>
<line x1="637.30" y1="319.30" x2="637.30" y2="321.80" stroke="#231f20" stroke-width="1"/>
<line x1="668.60" y1="319.30" x2="668.60" y2="321.80" stroke="#231f20" stroke-width="1"/>
<text x="541.90" y="334.20" text-anchor="middle">Before</text>
<text x="580.50" y="334.20" text-anchor="middle">After</text>
<text x="634.30" y="334.20" text-anchor="middle">Before</text>
<text x="673.10" y="334.20" text-anchor="middle">After</text>
<text x="559.80" y="349.90" text-anchor="middle">Actively pulsed</text>
<text x="653.00" y="349.90" text-anchor="middle">Non-pulsed</text>
<text x="0" y="0" text-anchor="middle" transform="translate(494.20,265.60) rotate(-90)">Norm. irradiance (a.u.)</text>
<line x1="545.30" y1="248.60" x2="545.30" y2="249.60" stroke="#333" stroke-width="0.8"/>
<line x1="542.80" y1="248.60" x2="547.80" y2="248.60" stroke="#333" stroke-width="0.8"/>
<line x1="542.80" y1="249.60" x2="547.80" y2="249.60" stroke="#333" stroke-width="0.8"/>
<circle cx="545.20" cy="228.30" r="1.65" fill="#1a74d4"/>
<circle cx="540.50" cy="249.00" r="1.65" fill="#1a74d4"/>
<circle cx="542.50" cy="248.60" r="1.65" fill="#1a74d4"/>
<circle cx="544.20" cy="248.60" r="1.65" fill="#1a74d4"/>
<circle cx="547.40" cy="248.60" r="1.65" fill="#1a74d4"/>
<circle cx="548.80" cy="248.90" r="1.65" fill="#1a74d4"/>
<circle cx="550.80" cy="249.20" r="1.65" fill="#1a74d4"/>
<circle cx="541.90" cy="251.00" r="1.65" fill="#1a74d4"/>
<circle cx="549.20" cy="250.70" r="1.65" fill="#1a74d4"/>
<circle cx="549.20" cy="258.30" r="1.65" fill="#1a74d4"/>
<line x1="576.00" y1="245.20" x2="576.00" y2="256.30" stroke="#333" stroke-width="0.8"/>
<line x1="573.10" y1="245.20" x2="578.90" y2="245.20" stroke="#333" stroke-width="0.8"/>
<line x1="573.10" y1="256.30" x2="578.90" y2="256.30" stroke="#333" stroke-width="0.8"/>
<circle cx="571.20" cy="251.70" r="1.65" fill="#1a74d4"/>
<circle cx="582.10" cy="243.20" r="1.65" fill="#1a74d4"/>
<circle cx="580.10" cy="256.70" r="1.65" fill="#1a74d4"/>
<ellipse cx="576.2" cy="309.0" rx="10.9" ry="9.4" fill="none" stroke="#d04a40" stroke-width="0.7"/>
<circle cx="569.50" cy="305.80" r="1.65" fill="#1a74d4"/>
<circle cx="574.60" cy="303.40" r="1.65" fill="#1a74d4"/>
<circle cx="576.10" cy="302.10" r="1.65" fill="#1a74d4"/>
<circle cx="580.20" cy="304.40" r="1.65" fill="#1a74d4"/>
<circle cx="571.10" cy="313.10" r="1.65" fill="#1a74d4"/>
<circle cx="579.80" cy="313.10" r="1.65" fill="#1a74d4"/>
<circle cx="581.50" cy="313.10" r="1.65" fill="#1a74d4"/>
<text x="586.00" y="299.40" fill="#cc3333">Failed μLEDs</text>
<line x1="637.80" y1="242.50" x2="637.80" y2="253.10" stroke="#333" stroke-width="0.8"/>
<line x1="634.90" y1="242.50" x2="640.70" y2="242.50" stroke="#333" stroke-width="0.8"/>
<line x1="634.90" y1="253.10" x2="640.70" y2="253.10" stroke="#333" stroke-width="0.8"/>
<circle cx="635.60" cy="234.80" r="1.65" fill="#1a74d4"/>
<circle cx="637.30" cy="245.90" r="1.65" fill="#1a74d4"/>
<circle cx="633.20" cy="250.40" r="1.65" fill="#1a74d4"/>
<circle cx="635.60" cy="250.20" r="1.65" fill="#1a74d4"/>
<circle cx="638.50" cy="250.60" r="1.65" fill="#1a74d4"/>
<circle cx="640.50" cy="250.40" r="1.65" fill="#1a74d4"/>
<circle cx="642.10" cy="250.80" r="1.65" fill="#1a74d4"/>
<circle cx="642.10" cy="253.10" r="1.65" fill="#1a74d4"/>
<line x1="668.60" y1="216.50" x2="668.60" y2="246.10" stroke="#333" stroke-width="0.8"/>
<line x1="665.70" y1="216.50" x2="671.50" y2="216.50" stroke="#333" stroke-width="0.8"/>
<line x1="665.70" y1="246.10" x2="671.50" y2="246.10" stroke="#333" stroke-width="0.8"/>
<circle cx="663.10" cy="208.10" r="1.65" fill="#1a74d4"/>
<circle cx="666.20" cy="208.10" r="1.65" fill="#1a74d4"/>
<circle cx="670.60" cy="220.60" r="1.65" fill="#1a74d4"/>
<circle cx="668.60" cy="226.10" r="1.65" fill="#1a74d4"/>
<circle cx="672.20" cy="229.70" r="1.65" fill="#1a74d4"/>
<circle cx="666.90" cy="235.00" r="1.65" fill="#1a74d4"/>
<circle cx="663.10" cy="240.10" r="1.65" fill="#1a74d4"/>
<circle cx="674.20" cy="241.30" r="1.65" fill="#1a74d4"/>
<circle cx="663.80" cy="251.40" r="1.65" fill="#1a74d4"/>
<circle cx="672.20" cy="252.60" r="1.65" fill="#1a74d4"/>
</svg></body></html>
